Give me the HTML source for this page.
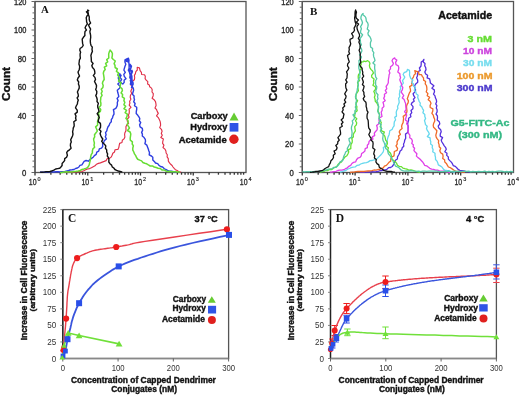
<!DOCTYPE html>
<html><head><meta charset="utf-8"><style>
html,body{margin:0;padding:0;background:#fff;}
body{width:520px;height:395px;overflow:hidden;font-family:"Liberation Sans", sans-serif;}
svg{display:block;filter:blur(0.4px);}
</style></head><body>
<svg width="520" height="395" viewBox="0 0 520 395">
<rect width="520" height="395" fill="#fff"/>
<rect x="35" y="1.5" width="211" height="171.0" fill="none" stroke="#555" stroke-width="1.3"/>
<line x1="35.00" y1="1.50" x2="35.00" y2="172.50" stroke="#555" stroke-width="1.2"/>
<line x1="35.00" y1="172.50" x2="246.00" y2="172.50" stroke="#555" stroke-width="1.2"/>
<line x1="31.50" y1="172.50" x2="35.00" y2="172.50" stroke="#666" stroke-width="1.0"/>
<line x1="32.50" y1="166.80" x2="35.00" y2="166.80" stroke="#666" stroke-width="1.0"/>
<line x1="32.50" y1="161.10" x2="35.00" y2="161.10" stroke="#666" stroke-width="1.0"/>
<line x1="32.50" y1="155.40" x2="35.00" y2="155.40" stroke="#666" stroke-width="1.0"/>
<line x1="32.50" y1="149.70" x2="35.00" y2="149.70" stroke="#666" stroke-width="1.0"/>
<line x1="31.50" y1="144.00" x2="35.00" y2="144.00" stroke="#666" stroke-width="1.0"/>
<line x1="32.50" y1="138.30" x2="35.00" y2="138.30" stroke="#666" stroke-width="1.0"/>
<line x1="32.50" y1="132.60" x2="35.00" y2="132.60" stroke="#666" stroke-width="1.0"/>
<line x1="32.50" y1="126.90" x2="35.00" y2="126.90" stroke="#666" stroke-width="1.0"/>
<line x1="32.50" y1="121.20" x2="35.00" y2="121.20" stroke="#666" stroke-width="1.0"/>
<line x1="31.50" y1="115.50" x2="35.00" y2="115.50" stroke="#666" stroke-width="1.0"/>
<line x1="32.50" y1="109.80" x2="35.00" y2="109.80" stroke="#666" stroke-width="1.0"/>
<line x1="32.50" y1="104.10" x2="35.00" y2="104.10" stroke="#666" stroke-width="1.0"/>
<line x1="32.50" y1="98.40" x2="35.00" y2="98.40" stroke="#666" stroke-width="1.0"/>
<line x1="32.50" y1="92.70" x2="35.00" y2="92.70" stroke="#666" stroke-width="1.0"/>
<line x1="31.50" y1="87.00" x2="35.00" y2="87.00" stroke="#666" stroke-width="1.0"/>
<line x1="32.50" y1="81.30" x2="35.00" y2="81.30" stroke="#666" stroke-width="1.0"/>
<line x1="32.50" y1="75.60" x2="35.00" y2="75.60" stroke="#666" stroke-width="1.0"/>
<line x1="32.50" y1="69.90" x2="35.00" y2="69.90" stroke="#666" stroke-width="1.0"/>
<line x1="32.50" y1="64.20" x2="35.00" y2="64.20" stroke="#666" stroke-width="1.0"/>
<line x1="31.50" y1="58.50" x2="35.00" y2="58.50" stroke="#666" stroke-width="1.0"/>
<line x1="32.50" y1="52.80" x2="35.00" y2="52.80" stroke="#666" stroke-width="1.0"/>
<line x1="32.50" y1="47.10" x2="35.00" y2="47.10" stroke="#666" stroke-width="1.0"/>
<line x1="32.50" y1="41.40" x2="35.00" y2="41.40" stroke="#666" stroke-width="1.0"/>
<line x1="32.50" y1="35.70" x2="35.00" y2="35.70" stroke="#666" stroke-width="1.0"/>
<line x1="31.50" y1="30.00" x2="35.00" y2="30.00" stroke="#666" stroke-width="1.0"/>
<line x1="32.50" y1="24.30" x2="35.00" y2="24.30" stroke="#666" stroke-width="1.0"/>
<line x1="32.50" y1="18.60" x2="35.00" y2="18.60" stroke="#666" stroke-width="1.0"/>
<line x1="32.50" y1="12.90" x2="35.00" y2="12.90" stroke="#666" stroke-width="1.0"/>
<line x1="32.50" y1="7.20" x2="35.00" y2="7.20" stroke="#666" stroke-width="1.0"/>
<line x1="31.50" y1="1.50" x2="35.00" y2="1.50" stroke="#666" stroke-width="1.0"/>
<text x="26.4" y="175.5" font-size="8.6" fill="#2a2a2a" font-weight="normal" text-anchor="end" font-family='"Liberation Sans", sans-serif' stroke="#2a2a2a" stroke-width="0.35" textLength="4.3" lengthAdjust="spacingAndGlyphs" >0</text>
<text x="26.4" y="118.5" font-size="8.6" fill="#2a2a2a" font-weight="normal" text-anchor="end" font-family='"Liberation Sans", sans-serif' stroke="#2a2a2a" stroke-width="0.35" textLength="8.6" lengthAdjust="spacingAndGlyphs" >40</text>
<text x="26.4" y="90.0" font-size="8.6" fill="#2a2a2a" font-weight="normal" text-anchor="end" font-family='"Liberation Sans", sans-serif' stroke="#2a2a2a" stroke-width="0.35" textLength="8.6" lengthAdjust="spacingAndGlyphs" >60</text>
<text x="26.4" y="61.5" font-size="8.6" fill="#2a2a2a" font-weight="normal" text-anchor="end" font-family='"Liberation Sans", sans-serif' stroke="#2a2a2a" stroke-width="0.35" textLength="8.6" lengthAdjust="spacingAndGlyphs" >80</text>
<text x="26.4" y="33.0" font-size="8.6" fill="#2a2a2a" font-weight="normal" text-anchor="end" font-family='"Liberation Sans", sans-serif' stroke="#2a2a2a" stroke-width="0.35" textLength="12.4" lengthAdjust="spacingAndGlyphs" >100</text>
<text x="26.4" y="4.5" font-size="8.6" fill="#2a2a2a" font-weight="normal" text-anchor="end" font-family='"Liberation Sans", sans-serif' stroke="#2a2a2a" stroke-width="0.35" textLength="12.4" lengthAdjust="spacingAndGlyphs" >120</text>
<line x1="35.00" y1="172.50" x2="35.00" y2="175.50" stroke="#333" stroke-width="1.3"/>
<line x1="50.88" y1="172.50" x2="50.88" y2="174.70" stroke="#333" stroke-width="1.3"/>
<line x1="60.17" y1="172.50" x2="60.17" y2="174.70" stroke="#333" stroke-width="1.3"/>
<line x1="66.76" y1="172.50" x2="66.76" y2="174.70" stroke="#333" stroke-width="1.3"/>
<line x1="71.87" y1="172.50" x2="71.87" y2="174.70" stroke="#333" stroke-width="1.3"/>
<line x1="76.05" y1="172.50" x2="76.05" y2="174.70" stroke="#333" stroke-width="1.3"/>
<line x1="79.58" y1="172.50" x2="79.58" y2="174.70" stroke="#333" stroke-width="1.3"/>
<line x1="82.64" y1="172.50" x2="82.64" y2="174.70" stroke="#333" stroke-width="1.3"/>
<line x1="85.34" y1="172.50" x2="85.34" y2="174.70" stroke="#333" stroke-width="1.3"/>
<line x1="87.75" y1="172.50" x2="87.75" y2="175.50" stroke="#333" stroke-width="1.3"/>
<line x1="103.63" y1="172.50" x2="103.63" y2="174.70" stroke="#333" stroke-width="1.3"/>
<line x1="112.92" y1="172.50" x2="112.92" y2="174.70" stroke="#333" stroke-width="1.3"/>
<line x1="119.51" y1="172.50" x2="119.51" y2="174.70" stroke="#333" stroke-width="1.3"/>
<line x1="124.62" y1="172.50" x2="124.62" y2="174.70" stroke="#333" stroke-width="1.3"/>
<line x1="128.80" y1="172.50" x2="128.80" y2="174.70" stroke="#333" stroke-width="1.3"/>
<line x1="132.33" y1="172.50" x2="132.33" y2="174.70" stroke="#333" stroke-width="1.3"/>
<line x1="135.39" y1="172.50" x2="135.39" y2="174.70" stroke="#333" stroke-width="1.3"/>
<line x1="138.09" y1="172.50" x2="138.09" y2="174.70" stroke="#333" stroke-width="1.3"/>
<line x1="140.50" y1="172.50" x2="140.50" y2="175.50" stroke="#333" stroke-width="1.3"/>
<line x1="156.38" y1="172.50" x2="156.38" y2="174.70" stroke="#333" stroke-width="1.3"/>
<line x1="165.67" y1="172.50" x2="165.67" y2="174.70" stroke="#333" stroke-width="1.3"/>
<line x1="172.26" y1="172.50" x2="172.26" y2="174.70" stroke="#333" stroke-width="1.3"/>
<line x1="177.37" y1="172.50" x2="177.37" y2="174.70" stroke="#333" stroke-width="1.3"/>
<line x1="181.55" y1="172.50" x2="181.55" y2="174.70" stroke="#333" stroke-width="1.3"/>
<line x1="185.08" y1="172.50" x2="185.08" y2="174.70" stroke="#333" stroke-width="1.3"/>
<line x1="188.14" y1="172.50" x2="188.14" y2="174.70" stroke="#333" stroke-width="1.3"/>
<line x1="190.84" y1="172.50" x2="190.84" y2="174.70" stroke="#333" stroke-width="1.3"/>
<line x1="193.25" y1="172.50" x2="193.25" y2="175.50" stroke="#333" stroke-width="1.3"/>
<line x1="209.13" y1="172.50" x2="209.13" y2="174.70" stroke="#333" stroke-width="1.3"/>
<line x1="218.42" y1="172.50" x2="218.42" y2="174.70" stroke="#333" stroke-width="1.3"/>
<line x1="225.01" y1="172.50" x2="225.01" y2="174.70" stroke="#333" stroke-width="1.3"/>
<line x1="230.12" y1="172.50" x2="230.12" y2="174.70" stroke="#333" stroke-width="1.3"/>
<line x1="234.30" y1="172.50" x2="234.30" y2="174.70" stroke="#333" stroke-width="1.3"/>
<line x1="237.83" y1="172.50" x2="237.83" y2="174.70" stroke="#333" stroke-width="1.3"/>
<line x1="240.89" y1="172.50" x2="240.89" y2="174.70" stroke="#333" stroke-width="1.3"/>
<line x1="243.59" y1="172.50" x2="243.59" y2="174.70" stroke="#333" stroke-width="1.3"/>
<text x="28.8" y="185.1" font-size="8.2" fill="#2a2a2a" font-weight="normal" text-anchor="start" font-family='"Liberation Sans", sans-serif' stroke="#2a2a2a" stroke-width="0.3" textLength="7.7" lengthAdjust="spacingAndGlyphs" >10</text>
<text x="37.5" y="181.1" font-size="5.5" fill="#2a2a2a" font-weight="normal" text-anchor="start" font-family='"Liberation Sans", sans-serif' stroke="#2a2a2a" stroke-width="0.2" >0</text>
<text x="81.5" y="185.1" font-size="8.2" fill="#2a2a2a" font-weight="normal" text-anchor="start" font-family='"Liberation Sans", sans-serif' stroke="#2a2a2a" stroke-width="0.3" textLength="7.7" lengthAdjust="spacingAndGlyphs" >10</text>
<text x="90.2" y="181.1" font-size="5.5" fill="#2a2a2a" font-weight="normal" text-anchor="start" font-family='"Liberation Sans", sans-serif' stroke="#2a2a2a" stroke-width="0.2" >1</text>
<text x="134.3" y="185.1" font-size="8.2" fill="#2a2a2a" font-weight="normal" text-anchor="start" font-family='"Liberation Sans", sans-serif' stroke="#2a2a2a" stroke-width="0.3" textLength="7.7" lengthAdjust="spacingAndGlyphs" >10</text>
<text x="143.0" y="181.1" font-size="5.5" fill="#2a2a2a" font-weight="normal" text-anchor="start" font-family='"Liberation Sans", sans-serif' stroke="#2a2a2a" stroke-width="0.2" >2</text>
<text x="187.1" y="185.1" font-size="8.2" fill="#2a2a2a" font-weight="normal" text-anchor="start" font-family='"Liberation Sans", sans-serif' stroke="#2a2a2a" stroke-width="0.3" textLength="7.7" lengthAdjust="spacingAndGlyphs" >10</text>
<text x="195.8" y="181.1" font-size="5.5" fill="#2a2a2a" font-weight="normal" text-anchor="start" font-family='"Liberation Sans", sans-serif' stroke="#2a2a2a" stroke-width="0.2" >3</text>
<text x="239.8" y="185.1" font-size="8.2" fill="#2a2a2a" font-weight="normal" text-anchor="start" font-family='"Liberation Sans", sans-serif' stroke="#2a2a2a" stroke-width="0.3" textLength="7.7" lengthAdjust="spacingAndGlyphs" >10</text>
<text x="248.5" y="181.1" font-size="5.5" fill="#2a2a2a" font-weight="normal" text-anchor="start" font-family='"Liberation Sans", sans-serif' stroke="#2a2a2a" stroke-width="0.2" >4</text>
<text x="9.7" y="84.0" font-size="11.5" fill="#111" font-weight="bold" text-anchor="middle" font-family='"Liberation Sans", sans-serif' stroke="#111" stroke-width="0.38" textLength="34" lengthAdjust="spacingAndGlyphs" transform="rotate(-90 9.7 84.0)" >Count</text>
<text x="41.0" y="12.8" font-size="10.8" fill="#111" font-weight="bold" text-anchor="start" font-family='"Liberation Serif", serif' >A</text>
<path d="M60.0,172.2 L62.0,172.0 L64.0,172.1 L66.0,171.9 L68.0,171.8 L70.0,171.9 L72.0,172.1 L74.0,172.0 L76.0,171.9 L78.0,171.6 L80.0,171.7 L82.0,171.5 L83.8,170.8 L85.6,169.8 L87.5,169.0 L89.6,168.6 L91.4,167.7 L93.2,166.7 L95.0,165.8 L96.5,164.2 L98.4,163.4 L100.4,162.9 L102.3,162.1 L104.2,161.4 L106.1,160.6 L107.3,158.5 L109.5,158.4 L111.1,157.1 L112.1,155.3 L112.8,153.2 L114.5,152.0 L115.0,149.8 L117.9,149.4 L118.8,147.6 L119.2,145.4 L119.6,143.4 L122.0,142.5 L122.3,140.3 L124.0,138.9 L124.9,137.0 L124.6,134.7 L124.9,132.7 L125.9,130.9 L126.0,128.9 L125.9,126.7 L126.8,124.9 L128.6,123.3 L127.2,120.9 L127.4,119.0 L129.1,117.2 L128.4,115.1 L129.2,113.2 L129.3,111.2 L129.1,109.2 L131.0,107.3 L129.2,105.1 L129.9,103.2 L129.6,101.2 L130.9,99.3 L130.2,97.2 L130.5,95.2 L131.7,93.3 L130.8,91.2 L131.6,89.3 L132.7,87.3 L130.8,85.0 L131.3,83.0 L132.4,81.2 L134.4,79.7 L134.7,77.7 L134.4,75.4 L135.4,73.6 L135.8,71.6 L137.3,70.0 L137.2,67.4 L139.4,67.8 L139.7,68.8 L140.1,70.6 L141.4,72.3 L141.6,74.5 L144.5,74.7 L145.3,76.3 L145.1,78.6 L146.2,80.1 L147.8,81.7 L147.6,83.9 L149.3,85.0 L149.7,86.8 L151.5,88.1 L152.2,89.8 L152.0,92.0 L153.3,93.7 L153.1,95.9 L152.1,98.2 L154.2,99.8 L155.5,101.6 L155.9,103.6 L156.1,105.6 L155.0,108.0 L156.6,109.7 L157.3,111.6 L158.3,113.4 L156.5,115.9 L158.3,117.6 L159.3,119.5 L160.1,121.4 L160.5,123.3 L160.6,125.4 L159.7,127.6 L161.4,129.3 L162.1,131.2 L161.3,133.4 L162.3,135.3 L160.8,137.6 L163.4,139.1 L162.8,141.3 L162.6,143.4 L163.9,145.2 L163.0,147.5 L164.9,149.1 L165.9,151.0 L166.1,153.0 L167.3,154.8 L167.1,156.9 L168.3,158.6 L168.3,160.9 L169.3,162.7 L170.7,164.3 L172.1,165.5 L173.0,167.0 L174.2,168.4 L175.4,169.7 L177.2,170.5 L178.8,171.7 L180.8,172.0 L181.1,172.1" fill="none" stroke="#e03048" stroke-width="1.15" stroke-linejoin="round" opacity="1.0"/>
<path d="M40.0,172.2 L42.0,172.3 L44.0,172.1 L46.0,172.2 L48.0,172.1 L50.0,171.7 L52.0,171.7 L54.0,172.0 L56.0,171.7 L58.0,171.6 L60.0,172.0 L62.0,171.6 L64.0,171.9 L66.0,171.2 L68.0,170.8 L69.9,170.0 L72.0,169.8 L74.0,169.5 L75.6,168.5 L77.4,168.0 L78.9,167.0 L79.9,165.4 L81.9,164.8 L83.0,163.1 L84.1,161.4 L86.1,160.5 L88.4,161.2 L89.8,159.6 L91.5,158.4 L93.2,157.2 L94.4,155.6 L96.2,154.4 L96.8,152.1 L98.7,151.1 L99.3,148.9 L101.5,148.1 L102.7,146.5 L102.6,143.6 L103.8,142.4 L104.2,140.7 L106.4,138.9 L105.3,136.7 L106.1,134.8 L105.5,132.6 L106.8,130.8 L107.2,128.9 L107.9,127.0 L109.2,125.3 L109.8,123.4 L111.3,121.7 L111.3,119.6 L112.5,117.8 L113.0,115.9 L114.0,114.1 L113.9,112.0 L113.4,109.6 L115.8,108.4 L116.8,106.7 L117.4,104.7 L117.3,102.5 L118.1,100.6 L117.1,98.4 L118.8,96.5 L118.3,94.4 L117.7,92.3 L117.3,90.2 L119.5,88.3 L120.0,86.3 L117.8,84.1 L119.7,82.2 L118.9,80.1 L118.3,78.0 L118.8,76.0 L120.2,74.1 L118.8,73.8 L121.1,75.4 L119.9,77.6 L121.6,79.3 L120.3,81.6 L121.7,83.2 L122.8,84.0 L124.2,82.4 L124.1,80.2 L126.0,78.6 L124.3,76.3 L123.8,74.3 L125.3,72.3 L123.9,70.2 L124.4,68.2 L125.0,66.2 L125.8,64.2 L124.9,62.0 L125.0,59.9 L127.3,58.6 L127.3,58.8 L126.1,61.0 L128.5,62.1 L127.7,59.4 L128.4,58.2 L129.0,60.1 L128.8,62.1 L129.0,64.1 L129.1,66.2 L129.1,68.2 L128.3,70.2 L129.5,72.2 L129.8,74.2 L130.2,73.8 L129.1,71.7 L129.4,69.7 L131.2,67.8 L130.2,65.8 L130.1,64.3 L131.5,66.2 L130.5,68.2 L130.2,70.3 L131.7,72.2 L130.2,74.3 L130.2,76.3 L131.8,78.2 L130.3,80.3 L130.8,82.2 L130.3,84.3 L130.5,83.7 L131.4,81.8 L131.6,79.8 L129.8,77.7 L130.0,75.7 L131.6,73.8 L132.4,71.8 L131.9,70.1 L131.5,72.2 L131.2,74.3 L131.9,76.2 L131.9,78.2 L132.1,80.2 L132.0,82.2 L131.4,84.3 L132.3,86.2 L131.5,87.6 L132.6,85.8 L130.8,83.7 L132.4,81.8 L131.7,80.5 L132.9,82.2 L133.2,84.2 L131.8,86.3 L133.3,88.2 L133.6,90.2 L133.0,92.2 L132.4,94.3 L134.1,96.1 L134.0,97.9 L134.5,99.7 L133.7,101.7 L135.1,103.5 L134.5,105.7 L136.7,107.3 L136.7,109.3 L136.3,111.5 L136.2,113.6 L137.8,115.3 L138.9,116.8 L139.8,118.5 L139.3,120.8 L140.7,122.5 L139.6,124.9 L140.1,126.8 L142.3,128.3 L142.6,130.4 L141.6,132.4 L142.4,134.1 L142.3,136.0 L144.1,137.6 L145.3,139.3 L145.5,141.3 L144.9,143.6 L146.8,145.1 L147.5,146.9 L148.2,148.8 L148.8,150.7 L149.5,152.6 L149.2,154.9 L151.4,156.0 L152.8,157.3 L152.8,159.9 L154.3,161.4 L155.5,163.0 L157.7,163.6 L158.9,165.3 L160.5,166.5 L162.6,167.0 L164.1,168.5 L165.8,169.5 L167.6,170.4 L169.5,171.1 L171.5,171.3 L173.5,171.8 L175.5,172.1 L176.0,172.1" fill="none" stroke="#2f3fe0" stroke-width="1.4" stroke-linejoin="round" opacity="1.0"/>
<path d="M60.0,172.5 L62.0,172.4 L64.0,171.9 L66.1,171.8 L68.1,172.1 L70.2,171.9 L72.2,171.8 L74.2,171.4 L76.2,171.2 L78.3,170.9 L80.3,170.5 L82.0,169.4 L84.0,168.9 L85.7,168.4 L87.4,167.8 L88.5,166.3 L89.3,164.6 L89.7,162.5 L90.2,160.6 L90.5,158.6 L90.7,156.6 L91.2,154.7 L92.4,152.9 L92.4,150.9 L92.9,148.9 L94.6,147.2 L94.0,145.1 L94.4,143.1 L93.9,140.9 L93.6,138.8 L94.7,136.9 L94.5,134.8 L95.8,133.0 L97.3,131.1 L96.6,129.0 L95.6,126.9 L97.6,125.1 L97.6,123.1 L97.6,121.1 L98.4,119.2 L98.4,117.2 L99.0,115.3 L98.3,113.1 L100.3,111.5 L100.7,109.5 L99.1,107.2 L100.8,105.4 L100.9,103.3 L100.4,101.3 L100.7,99.3 L100.8,97.3 L102.1,95.4 L101.2,93.3 L102.2,91.3 L101.2,89.2 L102.9,87.4 L103.2,85.4 L102.4,83.3 L103.0,81.3 L104.2,79.5 L104.0,77.4 L103.7,75.3 L103.3,73.2 L103.8,71.3 L105.2,69.5 L104.3,67.2 L106.7,65.8 L105.6,63.4 L107.7,61.9 L106.7,59.6 L108.8,58.0 L108.7,55.9 L108.7,53.9 L109.3,51.9 L110.2,50.2 L110.2,50.1 L111.5,51.7 L112.4,53.5 L112.3,55.7 L111.9,57.9 L113.3,59.5 L115.3,61.0 L114.1,63.6 L115.0,65.4 L115.1,67.5 L117.4,69.0 L116.4,71.3 L118.6,72.8 L117.6,75.1 L119.1,76.8 L119.7,78.7 L118.5,81.1 L121.0,82.6 L120.4,84.8 L120.0,87.0 L122.0,88.6 L122.4,90.6 L121.1,92.9 L122.6,94.6 L122.3,96.8 L124.4,98.4 L123.9,100.6 L124.8,102.4 L123.9,104.7 L125.7,106.4 L123.9,108.7 L126.6,110.3 L125.1,112.6 L127.3,114.2 L127.0,116.3 L125.9,118.5 L127.9,120.2 L128.2,122.2 L127.2,124.4 L128.3,126.2 L129.5,128.0 L127.5,130.5 L130.1,132.0 L130.8,133.9 L130.5,136.1 L130.2,138.2 L130.3,140.2 L132.4,141.9 L132.2,144.0 L133.4,145.8 L132.8,148.0 L132.8,150.2 L133.8,152.0 L134.5,153.9 L135.7,155.6 L136.5,157.5 L137.7,159.2 L139.7,160.1 L141.6,160.9 L142.9,162.5 L144.8,163.2 L146.7,163.8 L148.4,164.9 L150.2,166.0 L152.4,165.9 L154.2,167.0 L156.2,167.5 L158.1,168.2 L160.2,168.5 L161.9,169.9 L164.0,169.9 L165.8,170.9 L167.8,171.4 L169.8,171.3 L171.7,171.8 L173.8,171.7 L175.8,171.8 L177.8,171.9 L179.8,172.1 L180.0,172.1" fill="none" stroke="#66dd33" stroke-width="1.5" stroke-linejoin="round" opacity="1.0"/>
<path d="M40.0,172.1 L42.0,172.3 L44.0,172.1 L46.0,171.7 L48.0,171.7 L50.0,171.5 L51.9,170.8 L53.9,170.2 L55.7,169.0 L57.6,168.6 L59.7,168.3 L60.9,167.0 L62.1,165.5 L62.1,163.4 L63.4,162.0 L64.6,160.6 L64.7,158.6 L66.6,157.2 L67.4,155.3 L66.7,152.6 L67.6,151.1 L69.5,149.8 L71.1,148.2 L70.4,145.9 L70.5,143.8 L71.3,142.0 L70.7,139.8 L71.6,137.9 L72.5,136.0 L73.0,134.0 L72.6,131.9 L73.0,129.9 L73.3,127.9 L74.2,126.0 L74.1,123.9 L73.8,121.8 L76.1,120.1 L75.6,118.0 L76.0,116.0 L75.0,113.9 L77.3,112.1 L77.2,110.1 L75.5,107.9 L76.2,106.0 L77.4,104.0 L77.6,102.0 L78.3,100.1 L77.1,98.0 L78.4,96.1 L78.1,94.0 L77.4,92.0 L78.3,90.0 L79.2,88.1 L79.2,86.0 L78.4,84.0 L78.7,82.0 L77.3,79.9 L78.0,78.0 L79.5,76.0 L78.6,74.0 L78.0,72.0 L79.1,70.0 L79.6,68.0 L79.6,66.0 L78.9,64.0 L79.2,62.0 L79.4,60.0 L80.4,58.1 L80.1,56.0 L80.1,54.0 L80.6,52.2 L79.8,50.2 L80.1,48.5 L82.2,47.0 L83.2,45.4 L82.6,43.4 L82.4,41.3 L82.2,39.2 L83.4,37.3 L84.9,35.5 L84.8,33.5 L85.0,31.6 L86.5,30.1 L85.1,27.8 L86.0,25.8 L87.4,23.9 L86.6,21.8 L86.5,19.8 L86.2,17.7 L87.1,15.7 L88.4,14.2 L86.4,11.9 L88.7,10.6 L87.7,10.1 L87.7,11.5 L88.3,13.3 L88.5,15.0 L89.3,17.0 L89.2,19.0 L89.6,21.0 L90.6,23.0 L88.6,25.1 L89.5,27.1 L90.6,29.1 L89.9,31.2 L90.1,33.2 L90.6,35.2 L90.7,37.3 L90.4,39.3 L90.3,41.3 L90.5,43.4 L91.0,45.3 L92.3,47.2 L92.0,49.3 L92.4,51.4 L91.5,53.5 L90.9,55.5 L91.2,57.5 L91.3,59.6 L91.4,61.6 L93.1,63.4 L91.8,65.6 L92.5,67.5 L94.2,69.4 L94.7,71.3 L94.9,73.3 L93.3,75.6 L94.9,77.4 L95.5,79.4 L94.5,81.5 L95.5,83.4 L96.5,85.4 L96.4,87.4 L95.7,89.5 L96.8,91.4 L96.7,93.5 L95.8,95.6 L96.7,97.5 L97.2,99.5 L97.0,101.5 L98.4,103.4 L97.7,105.5 L97.8,107.5 L98.6,109.5 L99.0,111.4 L97.1,113.6 L98.4,115.5 L99.3,117.5 L98.5,119.6 L98.2,121.6 L100.4,123.4 L100.6,125.4 L100.5,127.4 L99.2,129.6 L101.0,131.3 L100.1,133.5 L100.7,135.5 L101.5,137.3 L102.8,139.0 L101.7,141.4 L102.9,142.9 L104.4,144.2 L105.8,145.9 L105.4,148.2 L106.7,149.9 L106.7,152.0 L107.6,153.9 L107.3,156.0 L108.6,157.8 L108.9,159.7 L108.8,162.0 L109.9,163.7 L111.6,165.1 L112.2,166.9 L113.8,168.0 L114.9,169.5 L116.6,170.3 L118.3,171.0 L120.1,171.5 L121.8,172.0 L121.9,172.5" fill="none" stroke="#111" stroke-width="1.4" stroke-linejoin="round" opacity="1.0"/>
<text x="227.7" y="119.4" font-size="9.3" fill="#111" font-weight="bold" text-anchor="end" font-family='"Liberation Sans", sans-serif' stroke="#111" stroke-width="0.38" textLength="37" lengthAdjust="spacingAndGlyphs" >Carboxy</text>
<text x="227.3" y="129.5" font-size="9.3" fill="#111" font-weight="bold" text-anchor="end" font-family='"Liberation Sans", sans-serif' stroke="#111" stroke-width="0.38" textLength="37" lengthAdjust="spacingAndGlyphs" >Hydroxy</text>
<text x="226.7" y="142.8" font-size="9.3" fill="#111" font-weight="bold" text-anchor="end" font-family='"Liberation Sans", sans-serif' stroke="#111" stroke-width="0.38" textLength="48" lengthAdjust="spacingAndGlyphs" >Acetamide</text>
<polygon points="229.5,120.4 238.5,120.4 234,112.6" fill="#66cc33"/>
<rect x="229.6" y="123" width="8.8" height="8.6" fill="#2f55e6"/>
<circle cx="233.9" cy="139.2" r="4.7" fill="#e0201e"/>
<rect x="302.3" y="1.5" width="211.2" height="171.0" fill="none" stroke="#555" stroke-width="1.3"/>
<line x1="302.30" y1="1.50" x2="302.30" y2="172.50" stroke="#555" stroke-width="1.2"/>
<line x1="302.30" y1="172.50" x2="513.50" y2="172.50" stroke="#555" stroke-width="1.2"/>
<line x1="298.80" y1="172.50" x2="302.30" y2="172.50" stroke="#666" stroke-width="1.0"/>
<line x1="299.80" y1="166.80" x2="302.30" y2="166.80" stroke="#666" stroke-width="1.0"/>
<line x1="299.80" y1="161.10" x2="302.30" y2="161.10" stroke="#666" stroke-width="1.0"/>
<line x1="299.80" y1="155.40" x2="302.30" y2="155.40" stroke="#666" stroke-width="1.0"/>
<line x1="299.80" y1="149.70" x2="302.30" y2="149.70" stroke="#666" stroke-width="1.0"/>
<line x1="298.80" y1="144.00" x2="302.30" y2="144.00" stroke="#666" stroke-width="1.0"/>
<line x1="299.80" y1="138.30" x2="302.30" y2="138.30" stroke="#666" stroke-width="1.0"/>
<line x1="299.80" y1="132.60" x2="302.30" y2="132.60" stroke="#666" stroke-width="1.0"/>
<line x1="299.80" y1="126.90" x2="302.30" y2="126.90" stroke="#666" stroke-width="1.0"/>
<line x1="299.80" y1="121.20" x2="302.30" y2="121.20" stroke="#666" stroke-width="1.0"/>
<line x1="298.80" y1="115.50" x2="302.30" y2="115.50" stroke="#666" stroke-width="1.0"/>
<line x1="299.80" y1="109.80" x2="302.30" y2="109.80" stroke="#666" stroke-width="1.0"/>
<line x1="299.80" y1="104.10" x2="302.30" y2="104.10" stroke="#666" stroke-width="1.0"/>
<line x1="299.80" y1="98.40" x2="302.30" y2="98.40" stroke="#666" stroke-width="1.0"/>
<line x1="299.80" y1="92.70" x2="302.30" y2="92.70" stroke="#666" stroke-width="1.0"/>
<line x1="298.80" y1="87.00" x2="302.30" y2="87.00" stroke="#666" stroke-width="1.0"/>
<line x1="299.80" y1="81.30" x2="302.30" y2="81.30" stroke="#666" stroke-width="1.0"/>
<line x1="299.80" y1="75.60" x2="302.30" y2="75.60" stroke="#666" stroke-width="1.0"/>
<line x1="299.80" y1="69.90" x2="302.30" y2="69.90" stroke="#666" stroke-width="1.0"/>
<line x1="299.80" y1="64.20" x2="302.30" y2="64.20" stroke="#666" stroke-width="1.0"/>
<line x1="298.80" y1="58.50" x2="302.30" y2="58.50" stroke="#666" stroke-width="1.0"/>
<line x1="299.80" y1="52.80" x2="302.30" y2="52.80" stroke="#666" stroke-width="1.0"/>
<line x1="299.80" y1="47.10" x2="302.30" y2="47.10" stroke="#666" stroke-width="1.0"/>
<line x1="299.80" y1="41.40" x2="302.30" y2="41.40" stroke="#666" stroke-width="1.0"/>
<line x1="299.80" y1="35.70" x2="302.30" y2="35.70" stroke="#666" stroke-width="1.0"/>
<line x1="298.80" y1="30.00" x2="302.30" y2="30.00" stroke="#666" stroke-width="1.0"/>
<line x1="299.80" y1="24.30" x2="302.30" y2="24.30" stroke="#666" stroke-width="1.0"/>
<line x1="299.80" y1="18.60" x2="302.30" y2="18.60" stroke="#666" stroke-width="1.0"/>
<line x1="299.80" y1="12.90" x2="302.30" y2="12.90" stroke="#666" stroke-width="1.0"/>
<line x1="299.80" y1="7.20" x2="302.30" y2="7.20" stroke="#666" stroke-width="1.0"/>
<line x1="298.80" y1="1.50" x2="302.30" y2="1.50" stroke="#666" stroke-width="1.0"/>
<text x="293.7" y="175.5" font-size="8.6" fill="#2a2a2a" font-weight="normal" text-anchor="end" font-family='"Liberation Sans", sans-serif' stroke="#2a2a2a" stroke-width="0.35" textLength="4.3" lengthAdjust="spacingAndGlyphs" >0</text>
<text x="293.7" y="147.0" font-size="8.6" fill="#2a2a2a" font-weight="normal" text-anchor="end" font-family='"Liberation Sans", sans-serif' stroke="#2a2a2a" stroke-width="0.35" textLength="8.6" lengthAdjust="spacingAndGlyphs" >20</text>
<text x="293.7" y="118.5" font-size="8.6" fill="#2a2a2a" font-weight="normal" text-anchor="end" font-family='"Liberation Sans", sans-serif' stroke="#2a2a2a" stroke-width="0.35" textLength="8.6" lengthAdjust="spacingAndGlyphs" >40</text>
<text x="293.7" y="90.0" font-size="8.6" fill="#2a2a2a" font-weight="normal" text-anchor="end" font-family='"Liberation Sans", sans-serif' stroke="#2a2a2a" stroke-width="0.35" textLength="8.6" lengthAdjust="spacingAndGlyphs" >60</text>
<text x="293.7" y="61.5" font-size="8.6" fill="#2a2a2a" font-weight="normal" text-anchor="end" font-family='"Liberation Sans", sans-serif' stroke="#2a2a2a" stroke-width="0.35" textLength="8.6" lengthAdjust="spacingAndGlyphs" >80</text>
<text x="293.7" y="33.0" font-size="8.6" fill="#2a2a2a" font-weight="normal" text-anchor="end" font-family='"Liberation Sans", sans-serif' stroke="#2a2a2a" stroke-width="0.35" textLength="12.4" lengthAdjust="spacingAndGlyphs" >100</text>
<text x="293.7" y="4.5" font-size="8.6" fill="#2a2a2a" font-weight="normal" text-anchor="end" font-family='"Liberation Sans", sans-serif' stroke="#2a2a2a" stroke-width="0.35" textLength="12.4" lengthAdjust="spacingAndGlyphs" >120</text>
<line x1="302.30" y1="172.50" x2="302.30" y2="175.50" stroke="#333" stroke-width="1.3"/>
<line x1="318.19" y1="172.50" x2="318.19" y2="174.70" stroke="#333" stroke-width="1.3"/>
<line x1="327.49" y1="172.50" x2="327.49" y2="174.70" stroke="#333" stroke-width="1.3"/>
<line x1="334.09" y1="172.50" x2="334.09" y2="174.70" stroke="#333" stroke-width="1.3"/>
<line x1="339.21" y1="172.50" x2="339.21" y2="174.70" stroke="#333" stroke-width="1.3"/>
<line x1="343.39" y1="172.50" x2="343.39" y2="174.70" stroke="#333" stroke-width="1.3"/>
<line x1="346.92" y1="172.50" x2="346.92" y2="174.70" stroke="#333" stroke-width="1.3"/>
<line x1="349.98" y1="172.50" x2="349.98" y2="174.70" stroke="#333" stroke-width="1.3"/>
<line x1="352.68" y1="172.50" x2="352.68" y2="174.70" stroke="#333" stroke-width="1.3"/>
<line x1="355.10" y1="172.50" x2="355.10" y2="175.50" stroke="#333" stroke-width="1.3"/>
<line x1="370.99" y1="172.50" x2="370.99" y2="174.70" stroke="#333" stroke-width="1.3"/>
<line x1="380.29" y1="172.50" x2="380.29" y2="174.70" stroke="#333" stroke-width="1.3"/>
<line x1="386.89" y1="172.50" x2="386.89" y2="174.70" stroke="#333" stroke-width="1.3"/>
<line x1="392.01" y1="172.50" x2="392.01" y2="174.70" stroke="#333" stroke-width="1.3"/>
<line x1="396.19" y1="172.50" x2="396.19" y2="174.70" stroke="#333" stroke-width="1.3"/>
<line x1="399.72" y1="172.50" x2="399.72" y2="174.70" stroke="#333" stroke-width="1.3"/>
<line x1="402.78" y1="172.50" x2="402.78" y2="174.70" stroke="#333" stroke-width="1.3"/>
<line x1="405.48" y1="172.50" x2="405.48" y2="174.70" stroke="#333" stroke-width="1.3"/>
<line x1="407.90" y1="172.50" x2="407.90" y2="175.50" stroke="#333" stroke-width="1.3"/>
<line x1="423.79" y1="172.50" x2="423.79" y2="174.70" stroke="#333" stroke-width="1.3"/>
<line x1="433.09" y1="172.50" x2="433.09" y2="174.70" stroke="#333" stroke-width="1.3"/>
<line x1="439.69" y1="172.50" x2="439.69" y2="174.70" stroke="#333" stroke-width="1.3"/>
<line x1="444.81" y1="172.50" x2="444.81" y2="174.70" stroke="#333" stroke-width="1.3"/>
<line x1="448.99" y1="172.50" x2="448.99" y2="174.70" stroke="#333" stroke-width="1.3"/>
<line x1="452.52" y1="172.50" x2="452.52" y2="174.70" stroke="#333" stroke-width="1.3"/>
<line x1="455.58" y1="172.50" x2="455.58" y2="174.70" stroke="#333" stroke-width="1.3"/>
<line x1="458.28" y1="172.50" x2="458.28" y2="174.70" stroke="#333" stroke-width="1.3"/>
<line x1="460.70" y1="172.50" x2="460.70" y2="175.50" stroke="#333" stroke-width="1.3"/>
<line x1="476.59" y1="172.50" x2="476.59" y2="174.70" stroke="#333" stroke-width="1.3"/>
<line x1="485.89" y1="172.50" x2="485.89" y2="174.70" stroke="#333" stroke-width="1.3"/>
<line x1="492.49" y1="172.50" x2="492.49" y2="174.70" stroke="#333" stroke-width="1.3"/>
<line x1="497.61" y1="172.50" x2="497.61" y2="174.70" stroke="#333" stroke-width="1.3"/>
<line x1="501.79" y1="172.50" x2="501.79" y2="174.70" stroke="#333" stroke-width="1.3"/>
<line x1="505.32" y1="172.50" x2="505.32" y2="174.70" stroke="#333" stroke-width="1.3"/>
<line x1="508.38" y1="172.50" x2="508.38" y2="174.70" stroke="#333" stroke-width="1.3"/>
<line x1="511.08" y1="172.50" x2="511.08" y2="174.70" stroke="#333" stroke-width="1.3"/>
<text x="296.1" y="185.1" font-size="8.2" fill="#2a2a2a" font-weight="normal" text-anchor="start" font-family='"Liberation Sans", sans-serif' stroke="#2a2a2a" stroke-width="0.3" textLength="7.7" lengthAdjust="spacingAndGlyphs" >10</text>
<text x="304.8" y="181.1" font-size="5.5" fill="#2a2a2a" font-weight="normal" text-anchor="start" font-family='"Liberation Sans", sans-serif' stroke="#2a2a2a" stroke-width="0.2" >0</text>
<text x="348.9" y="185.1" font-size="8.2" fill="#2a2a2a" font-weight="normal" text-anchor="start" font-family='"Liberation Sans", sans-serif' stroke="#2a2a2a" stroke-width="0.3" textLength="7.7" lengthAdjust="spacingAndGlyphs" >10</text>
<text x="357.6" y="181.1" font-size="5.5" fill="#2a2a2a" font-weight="normal" text-anchor="start" font-family='"Liberation Sans", sans-serif' stroke="#2a2a2a" stroke-width="0.2" >1</text>
<text x="401.7" y="185.1" font-size="8.2" fill="#2a2a2a" font-weight="normal" text-anchor="start" font-family='"Liberation Sans", sans-serif' stroke="#2a2a2a" stroke-width="0.3" textLength="7.7" lengthAdjust="spacingAndGlyphs" >10</text>
<text x="410.4" y="181.1" font-size="5.5" fill="#2a2a2a" font-weight="normal" text-anchor="start" font-family='"Liberation Sans", sans-serif' stroke="#2a2a2a" stroke-width="0.2" >2</text>
<text x="454.5" y="185.1" font-size="8.2" fill="#2a2a2a" font-weight="normal" text-anchor="start" font-family='"Liberation Sans", sans-serif' stroke="#2a2a2a" stroke-width="0.3" textLength="7.7" lengthAdjust="spacingAndGlyphs" >10</text>
<text x="463.2" y="181.1" font-size="5.5" fill="#2a2a2a" font-weight="normal" text-anchor="start" font-family='"Liberation Sans", sans-serif' stroke="#2a2a2a" stroke-width="0.2" >3</text>
<text x="507.3" y="185.1" font-size="8.2" fill="#2a2a2a" font-weight="normal" text-anchor="start" font-family='"Liberation Sans", sans-serif' stroke="#2a2a2a" stroke-width="0.3" textLength="7.7" lengthAdjust="spacingAndGlyphs" >10</text>
<text x="516.0" y="181.1" font-size="5.5" fill="#2a2a2a" font-weight="normal" text-anchor="start" font-family='"Liberation Sans", sans-serif' stroke="#2a2a2a" stroke-width="0.2" >4</text>
<text x="277.0" y="84.2" font-size="11.5" fill="#111" font-weight="bold" text-anchor="middle" font-family='"Liberation Sans", sans-serif' stroke="#111" stroke-width="0.38" textLength="34" lengthAdjust="spacingAndGlyphs" transform="rotate(-90 277.0 84.2)" >Count</text>
<text x="310.0" y="15.4" font-size="11" fill="#111" font-weight="bold" text-anchor="start" font-family='"Liberation Serif", serif' >B</text>
<path d="M360.0,172.3 L362.0,172.3 L364.0,172.4 L366.0,172.1 L368.0,172.0 L370.0,172.0 L372.0,171.7 L374.0,171.8 L376.0,171.7 L378.1,171.5 L380.0,170.7 L382.1,170.5 L383.7,169.8 L385.6,169.8 L387.3,169.0 L388.6,167.6 L390.6,167.5 L392.2,166.5 L393.3,165.0 L394.3,163.5 L394.8,161.6 L395.7,160.0 L397.4,159.0 L397.5,156.8 L398.6,155.0 L399.5,153.3 L400.0,151.2 L401.7,149.8 L402.2,147.8 L403.8,146.2 L403.5,144.0 L404.4,142.2 L404.7,140.1 L405.7,138.3 L405.6,136.2 L405.5,134.1 L407.7,132.5 L408.1,130.5 L408.1,128.4 L408.2,126.4 L407.6,124.2 L408.0,122.1 L408.6,120.2 L408.6,118.2 L410.9,116.7 L410.3,114.5 L411.8,112.7 L411.0,110.5 L412.9,108.8 L413.0,106.7 L411.2,104.3 L412.1,102.6 L414.2,101.2 L413.4,99.2 L415.0,97.6 L413.7,95.6 L413.1,93.7 L414.9,91.9 L415.6,90.0 L414.7,87.8 L414.7,85.7 L415.7,83.9 L417.7,82.3 L417.7,80.2 L416.6,77.8 L417.4,75.9 L417.5,73.8 L417.9,71.8 L420.3,70.4 L419.4,68.0 L420.9,66.3 L421.2,64.3 L421.2,62.1 L423.1,60.7 L423.9,59.4 L423.2,62.0 L425.0,63.6 L424.7,65.8 L425.7,67.6 L426.0,69.6 L424.8,72.0 L425.7,73.9 L427.6,75.3 L427.1,77.8 L429.6,78.8 L430.1,80.8 L430.4,83.1 L432.0,84.3 L433.9,85.8 L431.9,88.2 L434.3,89.9 L434.5,91.9 L433.5,94.1 L435.0,95.9 L435.4,97.8 L436.3,99.7 L436.6,101.7 L435.7,103.9 L436.9,105.7 L436.3,107.9 L437.1,109.8 L437.1,111.9 L436.0,114.0 L437.4,115.9 L437.5,118.0 L437.2,120.1 L439.3,121.8 L439.8,123.8 L438.2,126.1 L438.8,128.1 L440.7,129.8 L441.2,131.7 L440.3,134.0 L440.2,136.1 L442.6,137.6 L441.2,140.1 L441.9,142.0 L443.1,143.8 L444.1,145.6 L445.5,147.3 L446.3,149.2 L444.8,151.8 L447.0,153.2 L446.7,155.4 L448.3,156.9 L448.4,159.1 L449.8,160.6 L451.3,162.1 L452.4,163.7 L453.2,165.6 L455.3,166.4 L456.7,167.8 L458.1,169.4 L459.8,170.4 L461.9,170.6 L463.9,170.8 L465.8,171.7 L467.8,171.7 L469.8,172.0 L470.0,172.2" fill="none" stroke="#5530dd" stroke-width="1.3" stroke-linejoin="round" opacity="1.0"/>
<path d="M350.0,172.3 L352.0,172.2 L354.0,172.1 L356.0,171.7 L358.0,171.5 L360.0,171.5 L362.0,171.3 L364.0,171.5 L366.0,171.2 L368.0,171.0 L370.0,170.8 L372.0,170.7 L374.0,170.0 L376.0,170.1 L377.9,169.5 L379.8,169.5 L381.2,168.1 L383.2,168.0 L384.4,166.1 L386.4,165.4 L387.7,163.9 L389.0,162.3 L390.7,161.1 L390.8,158.8 L391.7,157.0 L394.0,155.9 L394.2,153.7 L394.3,151.5 L397.1,150.4 L397.6,148.3 L396.0,145.9 L397.2,144.1 L397.0,141.9 L397.9,140.1 L399.2,138.3 L398.5,136.0 L400.4,134.4 L399.2,132.0 L400.0,130.2 L402.1,128.6 L401.6,126.4 L402.1,124.5 L403.1,122.6 L403.3,120.6 L403.6,118.6 L403.2,116.4 L405.4,114.9 L406.5,113.0 L407.0,111.1 L406.7,108.9 L406.5,106.7 L407.0,104.7 L408.1,102.9 L408.4,100.9 L407.3,98.7 L408.0,96.7 L408.7,94.8 L409.4,92.9 L410.6,91.1 L410.3,88.9 L409.6,86.6 L412.1,85.1 L411.6,82.9 L412.3,81.0 L412.2,78.8 L413.4,77.1 L414.0,75.1 L415.6,73.5 L414.8,70.7 L416.6,71.3 L418.6,72.1 L419.0,74.6 L421.5,74.7 L422.3,76.4 L423.5,77.9 L423.6,80.1 L425.6,81.5 L425.2,83.8 L426.4,85.5 L426.8,87.5 L426.9,89.6 L426.2,91.9 L427.9,93.5 L427.2,95.8 L429.6,97.3 L428.2,99.7 L430.1,101.3 L431.0,103.2 L430.1,105.5 L430.2,107.5 L432.9,108.9 L432.8,111.1 L431.9,113.3 L433.3,115.1 L433.7,117.1 L434.6,119.0 L434.8,121.0 L433.7,123.2 L433.2,125.4 L433.6,127.3 L435.3,129.0 L436.9,130.7 L436.5,132.8 L435.8,135.1 L436.2,137.1 L437.2,138.9 L438.7,140.6 L438.4,142.7 L439.1,144.6 L439.2,146.7 L440.7,148.3 L439.8,150.8 L440.6,152.7 L442.7,154.1 L443.1,156.2 L442.7,158.5 L444.6,159.8 L444.8,162.0 L446.4,163.4 L447.3,165.2 L448.4,167.0 L450.4,167.7 L452.1,168.9 L453.7,170.0 L455.4,171.1 L457.4,171.4 L459.5,171.3 L461.5,172.0 L463.5,172.1 L465.0,172.2" fill="none" stroke="#f06a28" stroke-width="1.3" stroke-linejoin="round" opacity="1.0"/>
<path d="M340.0,172.2 L341.9,171.7 L343.8,171.0 L345.8,170.5 L347.5,169.2 L349.4,168.5 L351.2,167.7 L353.2,167.1 L355.2,166.9 L356.8,165.5 L358.9,165.2 L360.6,164.0 L362.5,163.4 L364.4,162.8 L366.5,162.7 L368.3,161.9 L370.1,160.6 L372.2,160.5 L374.0,159.8 L376.2,159.6 L377.6,158.1 L379.1,156.6 L380.5,155.2 L381.9,153.6 L383.2,151.9 L383.7,149.9 L383.3,147.5 L385.5,146.3 L385.4,144.1 L386.8,142.5 L387.2,140.5 L387.6,138.5 L388.2,136.6 L389.1,134.7 L389.5,132.7 L389.8,130.7 L392.2,129.4 L392.9,127.5 L394.1,125.8 L394.1,123.6 L394.4,121.6 L395.6,119.9 L394.7,117.4 L396.5,116.1 L396.4,114.2 L396.2,112.3 L396.7,110.3 L397.9,108.5 L397.5,106.4 L398.4,104.4 L399.2,102.5 L399.0,100.4 L398.6,98.3 L399.8,96.5 L399.4,94.4 L399.7,92.4 L399.9,90.4 L400.7,88.5 L400.2,86.4 L402.2,84.7 L403.4,83.0 L402.5,80.7 L403.8,78.9 L404.8,77.1 L403.1,74.5 L404.1,72.7 L406.6,71.6 L407.4,70.0 L407.4,69.3 L409.4,70.4 L409.7,72.5 L409.5,74.8 L410.0,76.6 L410.8,78.5 L412.9,80.0 L411.8,82.4 L413.6,83.9 L413.4,86.1 L415.5,87.5 L414.2,90.2 L415.8,91.7 L416.2,93.7 L418.1,95.2 L417.7,97.5 L418.5,99.4 L419.1,101.3 L420.3,103.0 L420.0,105.2 L421.7,106.8 L422.5,108.6 L423.6,110.4 L422.9,112.7 L424.8,114.4 L424.8,116.5 L425.6,118.4 L424.5,120.6 L425.1,122.6 L425.5,124.6 L427.2,126.3 L426.5,128.5 L427.3,130.4 L428.5,132.1 L429.3,134.0 L427.3,136.6 L430.1,137.9 L430.2,140.0 L430.8,141.8 L430.6,144.0 L432.5,145.5 L432.2,147.7 L433.1,149.6 L432.7,151.8 L435.0,153.2 L435.0,155.3 L435.5,157.3 L435.5,159.5 L437.0,161.1 L437.8,162.9 L438.3,164.9 L440.2,165.9 L441.9,167.0 L443.1,168.7 L444.6,170.2 L446.7,170.5 L448.7,170.6 L450.6,171.4 L452.5,171.9 L454.5,172.1 L455.0,172.3" fill="none" stroke="#66d8ee" stroke-width="1.3" stroke-linejoin="round" opacity="1.0"/>
<path d="M330.0,172.1 L332.0,172.0 L334.0,171.6 L336.0,171.4 L337.8,170.5 L339.8,170.1 L341.8,170.1 L343.8,169.7 L345.5,168.7 L347.4,167.8 L348.8,166.3 L350.7,165.4 L351.9,163.5 L353.5,162.4 L355.7,161.8 L356.5,159.7 L357.8,158.2 L360.0,157.4 L361.2,155.8 L361.6,153.5 L363.5,152.4 L364.9,151.0 L365.2,148.6 L367.4,147.7 L367.3,145.3 L368.7,143.8 L369.0,141.7 L370.2,140.1 L372.9,139.2 L372.4,136.7 L374.7,135.6 L374.3,133.1 L375.6,131.5 L377.1,129.9 L377.3,127.8 L376.6,125.4 L378.5,123.9 L379.3,122.1 L378.9,119.8 L379.4,117.8 L382.0,116.5 L381.6,114.3 L381.2,112.1 L382.2,110.3 L382.1,108.2 L383.9,106.6 L383.6,104.4 L383.0,102.3 L385.2,100.7 L383.7,98.3 L384.6,96.4 L384.4,94.3 L386.6,92.7 L385.3,90.4 L386.8,88.7 L386.1,86.5 L387.4,84.7 L388.3,82.8 L388.3,80.8 L388.5,78.8 L388.9,76.8 L389.1,74.8 L389.9,72.9 L389.0,70.7 L390.5,68.9 L390.5,66.8 L392.6,65.3 L393.4,63.4 L392.0,60.8 L392.9,59.0 L394.7,57.9 L394.9,58.8 L396.8,60.1 L395.6,62.4 L396.0,64.6 L398.2,65.8 L398.8,67.7 L398.5,69.8 L397.8,71.9 L399.9,73.7 L400.0,75.7 L400.6,77.6 L399.8,79.8 L400.5,81.7 L401.4,83.6 L401.5,85.7 L402.8,87.5 L402.4,89.6 L401.1,92.0 L402.5,93.8 L403.7,95.6 L402.3,97.9 L404.2,99.6 L404.8,101.5 L405.6,103.4 L405.7,105.4 L405.9,107.4 L406.1,109.5 L404.6,111.7 L406.4,113.6 L406.6,115.6 L405.9,117.8 L405.4,119.9 L407.4,121.6 L406.6,123.8 L408.1,125.5 L408.0,127.6 L408.3,129.6 L407.9,131.7 L408.8,133.6 L409.9,135.4 L409.7,137.7 L411.6,139.1 L412.4,141.0 L411.8,143.5 L413.4,144.7 L413.1,146.7 L414.6,148.2 L413.9,150.6 L415.4,152.2 L416.9,153.7 L416.4,156.1 L418.0,157.6 L419.6,158.7 L421.0,160.2 L422.4,161.7 L423.6,163.4 L424.6,165.3 L426.6,165.8 L428.2,167.1 L429.8,168.3 L431.6,169.1 L433.6,169.4 L435.5,170.2 L437.6,170.2 L439.5,170.8 L441.5,171.1 L443.5,171.2 L445.5,171.6 L447.5,171.8 L449.5,172.3 L450.0,172.1" fill="none" stroke="#e040e8" stroke-width="1.3" stroke-linejoin="round" opacity="1.0"/>
<path d="M320.1,172.5 L321.9,171.6 L323.9,171.4 L325.8,170.5 L327.9,170.6 L329.6,169.3 L331.8,169.5 L333.4,168.2 L335.2,167.2 L337.0,166.2 L338.2,164.3 L339.7,162.9 L341.5,161.9 L342.4,160.0 L343.8,158.5 L344.9,157.0 L346.9,155.7 L347.9,154.0 L348.7,152.1 L348.4,149.7 L350.8,148.7 L350.8,146.5 L351.0,144.4 L352.1,142.7 L352.3,140.7 L351.8,138.5 L353.4,136.7 L353.2,134.7 L354.1,132.8 L355.4,130.9 L355.0,128.8 L354.7,126.7 L356.3,124.8 L356.7,122.8 L355.5,120.7 L356.8,118.8 L354.5,116.6 L354.9,114.6 L355.1,112.6 L357.2,110.7 L356.7,108.6 L356.9,106.6 L355.9,104.6 L356.5,102.6 L357.6,100.6 L355.7,98.5 L356.0,96.5 L356.0,94.4 L357.3,92.5 L358.4,90.6 L357.9,88.5 L357.7,86.5 L358.1,84.5 L357.5,82.4 L359.6,80.6 L358.3,78.5 L358.2,76.4 L358.6,74.4 L360.3,72.7 L359.4,70.4 L361.3,68.7 L360.3,66.4 L361.1,64.5 L361.1,62.2 L363.8,61.6 L363.9,61.0 L365.7,61.6 L367.3,60.7 L369.0,61.5 L369.9,63.4 L369.4,65.6 L369.8,67.6 L370.9,69.4 L372.6,71.0 L373.5,73.0 L371.6,75.3 L371.8,77.3 L374.1,79.0 L373.5,81.1 L373.9,83.1 L372.9,85.3 L375.5,87.0 L375.6,89.1 L373.8,91.3 L374.6,93.2 L375.1,95.2 L374.4,97.3 L375.1,99.3 L375.3,101.4 L376.9,103.0 L377.8,104.9 L378.5,106.8 L378.2,108.9 L377.8,111.1 L379.0,112.9 L379.5,114.8 L379.2,116.9 L379.5,118.9 L380.2,120.8 L381.3,122.6 L380.5,124.8 L381.0,126.8 L381.2,128.8 L381.6,130.8 L384.4,132.1 L383.4,134.5 L384.8,136.2 L385.3,138.1 L385.6,140.1 L387.1,141.8 L387.4,143.8 L386.2,146.3 L388.4,147.7 L387.7,150.1 L389.0,151.7 L390.5,153.3 L391.3,155.2 L391.5,157.2 L392.1,159.2 L393.6,160.6 L395.3,161.7 L396.6,163.3 L397.4,165.3 L399.2,166.4 L401.4,166.6 L402.9,168.1 L404.9,168.7 L406.9,169.2 L408.8,170.1 L410.9,169.9 L412.9,170.4 L414.8,171.0 L416.7,171.7 L418.8,172.0 L420.0,172.3" fill="none" stroke="#66e030" stroke-width="1.3" stroke-linejoin="round" opacity="1.0"/>
<path d="M302.5,171.7 L304.5,171.8 L306.5,171.7 L308.5,171.7 L310.5,171.7 L312.5,171.8 L314.5,171.5 L316.5,171.7 L318.5,171.3 L320.5,171.3 L322.4,170.8 L324.3,170.1 L326.4,170.0 L328.2,169.1 L330.3,168.9 L332.2,168.6 L334.0,167.3 L336.2,167.4 L337.7,165.8 L339.0,164.3 L339.8,162.2 L341.7,161.2 L343.2,159.8 L343.4,157.7 L344.0,155.8 L344.9,154.0 L345.6,152.1 L347.5,150.7 L347.3,148.4 L348.2,146.7 L349.2,144.9 L350.4,143.1 L349.2,140.7 L349.0,138.6 L351.7,137.2 L351.8,135.1 L352.1,133.1 L351.9,131.0 L351.4,128.9 L351.5,126.9 L352.2,124.9 L352.9,123.0 L352.2,120.9 L354.1,119.1 L354.5,117.1 L353.0,114.8 L355.4,113.2 L354.8,111.0 L356.2,109.2 L355.3,107.0 L356.4,105.1 L355.8,103.0 L356.4,101.1 L356.4,99.0 L355.4,96.9 L356.0,94.9 L356.4,92.9 L357.1,91.0 L357.3,89.0 L357.9,87.0 L358.4,85.0 L358.0,82.9 L358.0,80.9 L358.7,79.0 L360.0,77.1 L359.8,75.0 L359.6,73.0 L360.3,71.0 L358.9,68.8 L358.8,66.8 L358.9,64.8 L359.1,62.8 L358.9,60.8 L360.6,58.9 L361.5,56.9 L359.5,54.8 L361.1,52.8 L361.9,50.9 L361.5,48.8 L360.0,46.7 L361.4,44.8 L360.5,42.7 L360.4,40.7 L360.1,38.7 L361.5,36.7 L362.6,34.8 L360.5,32.7 L360.7,30.7 L361.4,28.7 L360.6,26.7 L361.8,24.7 L362.5,22.7 L361.9,20.7 L360.9,18.6 L361.0,16.8 L361.7,15.0 L363.1,13.5 L362.3,14.2 L363.9,15.5 L365.6,17.1 L366.1,19.0 L366.3,21.1 L367.7,22.8 L368.2,24.8 L367.8,26.9 L367.2,29.1 L369.1,30.8 L367.9,33.1 L368.3,35.0 L369.9,36.8 L370.8,38.6 L371.3,40.6 L370.4,42.8 L370.4,44.9 L370.6,46.9 L372.6,48.6 L372.4,50.7 L373.8,52.6 L373.4,54.7 L373.7,56.7 L374.5,58.6 L375.0,60.6 L372.9,63.0 L374.9,64.7 L374.6,66.8 L374.7,68.8 L375.1,70.8 L375.0,72.8 L375.4,74.8 L375.6,76.8 L376.8,78.7 L375.6,80.8 L375.6,82.8 L375.6,84.8 L376.8,86.7 L376.6,88.8 L375.8,90.8 L376.2,92.8 L378.0,94.7 L377.5,96.8 L378.0,98.7 L376.8,100.9 L377.8,102.8 L378.1,104.8 L378.7,106.7 L378.4,108.8 L377.9,110.8 L378.3,112.8 L379.6,114.7 L379.4,116.7 L379.0,118.8 L380.7,120.6 L378.7,122.9 L381.2,124.5 L380.1,126.8 L381.8,128.4 L380.3,130.9 L381.5,132.7 L383.2,134.3 L383.0,136.5 L382.7,138.6 L383.1,140.6 L384.1,142.4 L384.8,144.4 L385.3,146.3 L385.7,148.4 L387.4,149.8 L387.9,151.8 L388.4,153.8 L389.7,155.4 L391.1,157.0 L391.6,159.1 L392.9,160.6 L393.6,162.6 L394.6,164.4 L395.6,166.2 L397.6,167.0 L399.3,168.0 L400.6,169.7 L402.5,170.6 L404.5,171.1 L406.6,171.0 L408.6,171.2 L410.7,170.7 L412.7,170.8 L414.7,171.2 L416.7,171.4 L418.7,171.1 L420.7,171.7 L422.8,171.2 L424.8,171.2 L426.8,171.4 L428.8,171.2 L430.8,171.1 L432.8,171.1 L434.8,171.1 L436.8,171.2 L438.7,171.6 L440.7,171.6 L442.7,171.6 L444.8,171.4 L446.7,171.6 L448.8,171.2 L450.7,171.7 L452.8,171.4 L454.8,171.2 L456.8,171.4 L458.8,171.3 L460.7,171.7 L462.8,171.4 L464.8,171.1 L466.8,171.3 L468.8,171.2 L470.7,171.8 L472.8,171.4 L474.7,171.7 L476.7,171.6 L478.8,171.5 L480.7,171.7 L482.7,171.6 L484.8,171.2 L486.7,171.9 L488.8,171.4 L490.7,171.7 L492.8,171.5 L494.7,171.9 L496.8,171.3 L498.8,171.2 L500.8,171.2 L502.8,171.5 L504.7,171.8 L506.8,171.5 L508.7,171.9 L510.8,171.3 L512.7,171.9 L513.0,171.4" fill="none" stroke="#55c8a8" stroke-width="1.3" stroke-linejoin="round" opacity="1.0"/>
<path d="M310.0,172.3 L312.0,172.2 L314.0,172.0 L315.9,171.3 L318.0,171.4 L319.9,171.0 L321.9,170.7 L323.6,169.8 L325.1,168.5 L326.9,167.5 L328.7,166.6 L329.3,164.6 L330.4,162.8 L330.9,160.8 L332.5,159.3 L333.5,157.5 L333.3,155.2 L335.2,153.7 L334.0,151.1 L336.4,149.8 L337.1,147.8 L335.8,145.4 L337.7,143.8 L337.8,141.8 L339.3,140.1 L337.9,137.6 L339.3,135.9 L340.6,134.2 L340.5,132.0 L340.1,129.9 L339.8,127.8 L342.3,126.2 L341.4,124.0 L343.0,122.2 L341.1,119.9 L343.2,118.1 L343.5,116.2 L344.0,114.2 L342.0,111.9 L343.2,110.0 L342.7,107.9 L344.7,106.1 L343.9,104.0 L345.7,102.2 L344.4,100.0 L345.7,98.1 L346.1,96.1 L344.7,93.9 L345.7,92.0 L346.9,90.1 L345.9,88.0 L345.7,86.0 L345.6,84.0 L347.1,82.1 L345.7,79.9 L347.0,78.0 L347.1,76.0 L347.3,74.0 L346.5,71.8 L348.0,69.9 L348.9,68.0 L347.5,65.8 L347.7,63.8 L349.3,61.9 L348.6,59.8 L348.0,57.7 L347.5,55.6 L349.6,53.8 L348.8,51.7 L349.3,49.7 L349.0,47.6 L350.1,45.7 L350.7,43.7 L350.1,41.5 L350.0,39.4 L352.8,38.0 L353.1,36.1 L351.6,33.5 L353.5,32.0 L354.5,30.2 L354.1,28.1 L355.2,26.2 L356.0,24.2 L355.2,22.1 L354.9,20.1 L354.6,18.0 L355.0,16.0 L355.0,14.0 L355.1,12.0 L355.6,10.0 L355.6,10.3 L356.5,12.1 L356.0,14.2 L355.9,16.2 L356.3,18.2 L358.4,20.1 L356.3,22.3 L358.6,24.1 L357.0,26.3 L357.0,28.3 L357.6,30.3 L358.4,32.2 L359.4,34.2 L359.6,36.2 L358.3,38.3 L359.5,40.2 L358.9,42.3 L359.8,44.2 L360.2,46.2 L360.0,48.2 L359.1,50.3 L359.9,52.2 L360.3,54.2 L360.2,56.2 L360.2,58.3 L360.5,60.3 L360.8,62.2 L359.6,64.4 L360.4,66.3 L362.1,68.1 L362.2,70.2 L362.8,72.1 L362.6,74.2 L363.7,76.1 L362.1,78.4 L362.8,80.3 L363.4,82.3 L362.4,84.5 L364.1,86.3 L363.6,88.4 L362.8,90.5 L363.9,92.4 L363.9,94.5 L364.7,96.4 L363.2,98.7 L364.2,100.6 L365.9,102.3 L366.2,104.3 L366.1,106.4 L366.7,108.3 L366.9,110.3 L368.0,112.2 L367.2,114.3 L367.0,116.3 L367.1,118.3 L368.1,120.3 L368.3,122.3 L368.4,124.3 L368.5,126.3 L368.8,128.2 L370.2,130.0 L370.1,132.0 L368.8,134.5 L369.7,136.3 L371.1,138.0 L370.9,140.1 L372.8,141.7 L373.1,143.7 L372.9,145.8 L372.8,147.9 L374.9,149.6 L374.2,151.8 L373.7,153.9 L374.7,155.8 L374.4,157.9 L376.3,159.5 L375.9,161.8 L377.0,163.6 L378.8,164.9 L379.2,167.0 L380.5,168.3 L382.3,169.0 L383.5,170.4 L385.5,171.0 L387.5,171.3 L389.5,171.3 L391.6,171.5 L393.5,172.1 L395.0,172.1" fill="none" stroke="#111" stroke-width="1.3" stroke-linejoin="round" opacity="1.0"/>
<text x="492.2" y="19.0" font-size="10.3" fill="#111" font-weight="bold" text-anchor="end" font-family='"Liberation Sans", sans-serif' stroke="#111" stroke-width="0.38" textLength="54" lengthAdjust="spacingAndGlyphs" >Acetamide</text>
<text x="492.0" y="42.1" font-size="9.5" fill="#66dd33" font-weight="bold" text-anchor="end" font-family='"Liberation Sans", sans-serif' stroke="#66dd33" stroke-width="0.38" textLength="24.4" lengthAdjust="spacingAndGlyphs" >3 nM</text>
<text x="492.0" y="54.2" font-size="9.5" fill="#cc44dd" font-weight="bold" text-anchor="end" font-family='"Liberation Sans", sans-serif' stroke="#cc44dd" stroke-width="0.38" textLength="29" lengthAdjust="spacingAndGlyphs" >10 nM</text>
<text x="492.0" y="66.3" font-size="9.5" fill="#77ddee" font-weight="bold" text-anchor="end" font-family='"Liberation Sans", sans-serif' stroke="#77ddee" stroke-width="0.38" textLength="29" lengthAdjust="spacingAndGlyphs" >30 nM</text>
<text x="492.5" y="78.6" font-size="9.5" fill="#eb9a2e" font-weight="bold" text-anchor="end" font-family='"Liberation Sans", sans-serif' stroke="#eb9a2e" stroke-width="0.38" textLength="35.8" lengthAdjust="spacingAndGlyphs" >100 nM</text>
<text x="492.5" y="90.8" font-size="9.5" fill="#4c3acc" font-weight="bold" text-anchor="end" font-family='"Liberation Sans", sans-serif' stroke="#4c3acc" stroke-width="0.38" textLength="35.8" lengthAdjust="spacingAndGlyphs" >300 nM</text>
<text x="480.0" y="126.2" font-size="9.8" fill="#33b884" font-weight="bold" text-anchor="middle" font-family='"Liberation Sans", sans-serif' stroke="#33b884" stroke-width="0.38" textLength="59" lengthAdjust="spacingAndGlyphs" >G5-FITC-Ac</text>
<text x="480.2" y="137.6" font-size="9.8" fill="#33b884" font-weight="bold" text-anchor="middle" font-family='"Liberation Sans", sans-serif' stroke="#33b884" stroke-width="0.38" textLength="44" lengthAdjust="spacingAndGlyphs" >(300 nM)</text>
<rect x="62.8" y="209.6" width="165.8" height="148.9" fill="none" stroke="#555" stroke-width="1.3"/>
<line x1="62.80" y1="209.60" x2="62.80" y2="358.50" stroke="#222" stroke-width="1.3"/>
<line x1="62.80" y1="358.50" x2="228.60" y2="358.50" stroke="#888" stroke-width="1.5"/>
<line x1="60.30" y1="358.50" x2="62.80" y2="358.50" stroke="#777" stroke-width="0.9"/>
<text x="56.3" y="361.5" font-size="8.4" fill="#333" font-weight="normal" text-anchor="end" font-family='"Liberation Sans", sans-serif' textLength="4.5" lengthAdjust="spacingAndGlyphs" >0</text>
<line x1="60.30" y1="341.96" x2="62.80" y2="341.96" stroke="#777" stroke-width="0.9"/>
<text x="56.3" y="345.0" font-size="8.4" fill="#333" font-weight="normal" text-anchor="end" font-family='"Liberation Sans", sans-serif' textLength="9.0" lengthAdjust="spacingAndGlyphs" >25</text>
<line x1="60.30" y1="325.41" x2="62.80" y2="325.41" stroke="#777" stroke-width="0.9"/>
<text x="56.3" y="328.4" font-size="8.4" fill="#333" font-weight="normal" text-anchor="end" font-family='"Liberation Sans", sans-serif' textLength="9.0" lengthAdjust="spacingAndGlyphs" >50</text>
<line x1="60.30" y1="308.87" x2="62.80" y2="308.87" stroke="#777" stroke-width="0.9"/>
<text x="56.3" y="311.9" font-size="8.4" fill="#333" font-weight="normal" text-anchor="end" font-family='"Liberation Sans", sans-serif' textLength="9.0" lengthAdjust="spacingAndGlyphs" >75</text>
<line x1="60.30" y1="292.32" x2="62.80" y2="292.32" stroke="#777" stroke-width="0.9"/>
<text x="56.3" y="295.3" font-size="8.4" fill="#333" font-weight="normal" text-anchor="end" font-family='"Liberation Sans", sans-serif' textLength="13.5" lengthAdjust="spacingAndGlyphs" >100</text>
<line x1="60.30" y1="275.78" x2="62.80" y2="275.78" stroke="#777" stroke-width="0.9"/>
<text x="56.3" y="278.8" font-size="8.4" fill="#333" font-weight="normal" text-anchor="end" font-family='"Liberation Sans", sans-serif' textLength="13.5" lengthAdjust="spacingAndGlyphs" >125</text>
<line x1="60.30" y1="259.23" x2="62.80" y2="259.23" stroke="#777" stroke-width="0.9"/>
<text x="56.3" y="262.2" font-size="8.4" fill="#333" font-weight="normal" text-anchor="end" font-family='"Liberation Sans", sans-serif' textLength="13.5" lengthAdjust="spacingAndGlyphs" >150</text>
<line x1="60.30" y1="242.69" x2="62.80" y2="242.69" stroke="#777" stroke-width="0.9"/>
<text x="56.3" y="245.7" font-size="8.4" fill="#333" font-weight="normal" text-anchor="end" font-family='"Liberation Sans", sans-serif' textLength="13.5" lengthAdjust="spacingAndGlyphs" >175</text>
<line x1="60.30" y1="226.14" x2="62.80" y2="226.14" stroke="#777" stroke-width="0.9"/>
<text x="56.3" y="229.1" font-size="8.4" fill="#333" font-weight="normal" text-anchor="end" font-family='"Liberation Sans", sans-serif' textLength="13.5" lengthAdjust="spacingAndGlyphs" >200</text>
<line x1="60.30" y1="209.60" x2="62.80" y2="209.60" stroke="#777" stroke-width="0.9"/>
<text x="56.3" y="212.6" font-size="8.4" fill="#333" font-weight="normal" text-anchor="end" font-family='"Liberation Sans", sans-serif' textLength="13.5" lengthAdjust="spacingAndGlyphs" >225</text>
<line x1="62.80" y1="358.50" x2="62.80" y2="361.50" stroke="#555" stroke-width="0.9"/>
<text x="62.8" y="371.0" font-size="8.4" fill="#333" font-weight="normal" text-anchor="middle" font-family='"Liberation Sans", sans-serif' textLength="4.3" lengthAdjust="spacingAndGlyphs" >0</text>
<line x1="118.07" y1="358.50" x2="118.07" y2="361.50" stroke="#555" stroke-width="0.9"/>
<text x="118.1" y="371.0" font-size="8.4" fill="#333" font-weight="normal" text-anchor="middle" font-family='"Liberation Sans", sans-serif' textLength="12.899999999999999" lengthAdjust="spacingAndGlyphs" >100</text>
<line x1="173.33" y1="358.50" x2="173.33" y2="361.50" stroke="#555" stroke-width="0.9"/>
<text x="173.3" y="371.0" font-size="8.4" fill="#333" font-weight="normal" text-anchor="middle" font-family='"Liberation Sans", sans-serif' textLength="12.899999999999999" lengthAdjust="spacingAndGlyphs" >200</text>
<line x1="228.60" y1="358.50" x2="228.60" y2="361.50" stroke="#555" stroke-width="0.9"/>
<text x="228.6" y="371.0" font-size="8.4" fill="#333" font-weight="normal" text-anchor="middle" font-family='"Liberation Sans", sans-serif' textLength="12.899999999999999" lengthAdjust="spacingAndGlyphs" >300</text>
<text x="68.1" y="221.6" font-size="11.5" fill="#111" font-weight="bold" text-anchor="start" font-family='"Liberation Serif", serif' >C</text>
<text x="217.8" y="221.8" font-size="9.4" fill="#111" font-weight="bold" text-anchor="end" font-family='"Liberation Sans", sans-serif' stroke="#111" stroke-width="0.38" textLength="23.2" lengthAdjust="spacingAndGlyphs" >37 °C</text>
<text x="26.6" y="280.5" font-size="8.5" fill="#111" font-weight="bold" text-anchor="middle" font-family='"Liberation Sans", sans-serif' stroke="#111" stroke-width="0.38" textLength="119.7" lengthAdjust="spacingAndGlyphs" transform="rotate(-90 26.6 280.5)" >Increase in Cell Fluorescence</text>
<text x="34.6" y="280.2" font-size="7" fill="#111" font-weight="bold" text-anchor="middle" font-family='"Liberation Sans", sans-serif' stroke="#111" stroke-width="0.38" textLength="62.4" lengthAdjust="spacingAndGlyphs" transform="rotate(-90 34.6 280.2)" >(arbitrary units)</text>
<text x="143.4" y="382.6" font-size="8.5" fill="#111" font-weight="bold" text-anchor="middle" font-family='"Liberation Sans", sans-serif' stroke="#111" stroke-width="0.38" textLength="145" lengthAdjust="spacingAndGlyphs" >Concentration of Capped Dendrimer</text>
<text x="144.1" y="391.6" font-size="8.5" fill="#111" font-weight="bold" text-anchor="middle" font-family='"Liberation Sans", sans-serif' stroke="#111" stroke-width="0.38" textLength="65.8" lengthAdjust="spacingAndGlyphs" >Conjugates (nM)</text>
<path d="M63.5,347.5 L63.7,345.2 L64.0,342.2 L64.3,338.5 L64.7,334.5 L65.1,330.3 L65.5,326.1 L65.8,322.2 L66.1,318.6 L66.3,315.3 L66.5,312.0 L66.7,308.8 L66.9,305.6 L67.0,302.6 L67.2,299.8 L67.3,297.3 L67.5,295.0 L67.7,293.1 L67.9,291.5 L68.1,290.2 L68.3,289.1 L68.5,288.1 L68.7,287.0 L68.9,285.9 L69.1,284.7 L69.3,283.3 L69.5,281.9 L69.8,280.4 L70.0,278.9 L70.3,277.5 L70.5,276.0 L70.7,274.6 L71.0,273.3 L71.2,272.0 L71.5,270.8 L71.7,269.6 L72.0,268.4 L72.2,267.3 L72.5,266.2 L72.8,265.2 L73.2,264.2 L73.6,263.3 L74.0,262.4 L74.4,261.6 L74.8,260.8 L75.3,260.1 L75.8,259.4 L76.4,258.7 L77.1,258.1 L77.9,257.5 L78.7,256.9 L79.6,256.4 L80.5,255.9 L81.5,255.4 L82.5,254.9 L83.6,254.5 L84.6,254.0 L85.6,253.5 L86.7,253.1 L87.8,252.6 L88.9,252.2 L90.1,251.7 L91.2,251.3 L92.4,250.9 L93.7,250.6 L95.0,250.3 L96.4,250.0 L97.8,249.8 L99.2,249.5 L100.7,249.3 L102.1,249.1 L103.6,248.9 L105.0,248.7 L106.4,248.5 L107.8,248.3 L109.2,248.1 L110.6,247.9 L112.0,247.7 L113.4,247.4 L114.8,247.2 L116.2,247.0 L117.6,246.8 L119.0,246.5 L120.3,246.3 L121.7,246.1 L123.1,245.8 L124.6,245.5 L126.2,245.2 L127.9,244.9 L129.3,244.6 L130.3,244.3 L131.1,244.1 L132.1,243.8 L133.6,243.4 L136.0,242.9 L139.7,242.3 L145.0,241.4 L152.7,240.2 L162.8,238.7 L174.6,237.0 L187.0,235.1 L199.3,233.3 L210.7,231.7 L220.1,230.3 L226.9,229.3" fill="none" stroke="#e8404c" stroke-width="1.4" stroke-linejoin="round"/>
<line x1="62.70" y1="350.40" x2="63.50" y2="347.50" stroke="#e8404c" stroke-width="1.4"/>
<path d="M63.0,356.0 L63.2,355.7 L63.4,355.3 L63.7,354.8 L64.1,354.3 L64.4,353.7 L64.8,352.9 L65.1,352.1 L65.4,351.1 L65.7,349.9 L65.9,348.6 L66.2,347.1 L66.4,345.5 L66.7,343.8 L67.0,342.2 L67.2,340.6 L67.5,339.2 L67.8,337.9 L68.1,336.7 L68.4,335.5 L68.7,334.4 L69.0,333.3 L69.3,332.1 L69.6,330.9 L70.0,329.5 L70.4,328.0 L70.7,326.5 L71.1,324.9 L71.4,323.3 L71.8,321.6 L72.3,319.9 L72.8,318.3 L73.3,316.6 L73.9,314.9 L74.5,313.3 L75.2,311.6 L75.9,309.9 L76.6,308.2 L77.4,306.5 L78.2,304.8 L79.1,303.2 L80.0,301.6 L80.9,300.0 L81.9,298.4 L82.9,296.8 L83.9,295.3 L85.0,293.8 L86.1,292.3 L87.3,290.8 L88.4,289.4 L89.6,288.1 L90.7,286.8 L91.9,285.5 L93.1,284.2 L94.6,282.9 L96.2,281.5 L98.0,280.0 L100.1,278.4 L102.3,276.7 L104.8,275.0 L107.4,273.2 L110.1,271.4 L112.9,269.6 L115.8,268.0 L118.7,266.4 L121.7,265.0 L124.7,263.6 L127.8,262.4 L131.0,261.1 L134.3,259.9 L137.7,258.8 L141.3,257.5 L145.0,256.3 L148.9,255.0 L152.8,253.8 L156.9,252.5 L161.1,251.2 L165.5,249.9 L170.1,248.6 L174.9,247.3 L180.0,246.0 L185.8,244.6 L192.4,243.0 L199.5,241.4 L206.7,239.8 L213.6,238.3 L219.9,236.9 L225.1,235.8 L229.0,234.9" fill="none" stroke="#3a55dd" stroke-width="1.8" stroke-linejoin="round"/>
<path d="M62.2,357.4 L64.0,345.5 L68.2,333.0 L79.1,335.5 L119.1,343.9" fill="none" stroke="#70e03a" stroke-width="1.6" stroke-linejoin="round"/>
<circle cx="62.7" cy="350.4" r="2.4" fill="#ee1c1c"/>
<circle cx="63.5" cy="347.5" r="2.4" fill="#ee1c1c"/>
<circle cx="66.1" cy="318.6" r="3.1" fill="#ee1c1c"/>
<circle cx="77.1" cy="258.1" r="3.1" fill="#ee1c1c"/>
<circle cx="116.2" cy="247.0" r="3.1" fill="#ee1c1c"/>
<circle cx="226.9" cy="229.3" r="3.1" fill="#ee1c1c"/>
<rect x="60.6" y="353.6" width="4.8" height="4.8" fill="#2a4fe8"/>
<rect x="63.0" y="348.7" width="4.8" height="4.8" fill="#2a4fe8"/>
<rect x="64.5" y="336.2" width="6.0" height="6.0" fill="#2a4fe8"/>
<rect x="76.1" y="300.2" width="6.0" height="6.0" fill="#2a4fe8"/>
<rect x="115.7" y="263.4" width="6.0" height="6.0" fill="#2a4fe8"/>
<rect x="226.0" y="231.9" width="6.0" height="6.0" fill="#2a4fe8"/>
<polygon points="59.4,359.6 65.0,359.6 62.2,354.9" fill="#70e03a"/>
<polygon points="61.2,347.7 66.8,347.7 64.0,343.0" fill="#70e03a"/>
<polygon points="64.8,335.7 71.6,335.7 68.2,329.9" fill="#70e03a"/>
<polygon points="75.7,338.2 82.5,338.2 79.1,332.4" fill="#70e03a"/>
<polygon points="115.7,346.6 122.5,346.6 119.1,340.8" fill="#70e03a"/>
<text x="206.2" y="302.2" font-size="8.6" fill="#111" font-weight="bold" text-anchor="end" font-family='"Liberation Sans", sans-serif' stroke="#111" stroke-width="0.38" textLength="33.5" lengthAdjust="spacingAndGlyphs" >Carboxy</text>
<text x="205.8" y="311.2" font-size="8.6" fill="#111" font-weight="bold" text-anchor="end" font-family='"Liberation Sans", sans-serif' stroke="#111" stroke-width="0.38" textLength="33.4" lengthAdjust="spacingAndGlyphs" >Hydroxy</text>
<text x="205.0" y="322.4" font-size="8.6" fill="#111" font-weight="bold" text-anchor="end" font-family='"Liberation Sans", sans-serif' stroke="#111" stroke-width="0.38" textLength="43.1" lengthAdjust="spacingAndGlyphs" >Acetamide</text>
<polygon points="207.8,302.7 215.8,302.7 211.8,296.3" fill="#66cc33"/>
<rect x="208" y="305.8" width="8.1" height="7.7" fill="#2f55e6"/>
<circle cx="211.9" cy="320.1" r="4" fill="#e0201e"/>
<rect x="330.5" y="209.6" width="165.89999999999998" height="148.9" fill="none" stroke="#555" stroke-width="1.3"/>
<line x1="330.50" y1="209.60" x2="330.50" y2="358.50" stroke="#222" stroke-width="1.3"/>
<line x1="330.50" y1="358.50" x2="496.40" y2="358.50" stroke="#888" stroke-width="1.5"/>
<line x1="328.00" y1="358.50" x2="330.50" y2="358.50" stroke="#777" stroke-width="0.9"/>
<text x="324.0" y="361.5" font-size="8.4" fill="#333" font-weight="normal" text-anchor="end" font-family='"Liberation Sans", sans-serif' textLength="4.5" lengthAdjust="spacingAndGlyphs" >0</text>
<line x1="328.00" y1="341.96" x2="330.50" y2="341.96" stroke="#777" stroke-width="0.9"/>
<text x="324.0" y="345.0" font-size="8.4" fill="#333" font-weight="normal" text-anchor="end" font-family='"Liberation Sans", sans-serif' textLength="9.0" lengthAdjust="spacingAndGlyphs" >25</text>
<line x1="328.00" y1="325.41" x2="330.50" y2="325.41" stroke="#777" stroke-width="0.9"/>
<text x="324.0" y="328.4" font-size="8.4" fill="#333" font-weight="normal" text-anchor="end" font-family='"Liberation Sans", sans-serif' textLength="9.0" lengthAdjust="spacingAndGlyphs" >50</text>
<line x1="328.00" y1="308.87" x2="330.50" y2="308.87" stroke="#777" stroke-width="0.9"/>
<text x="324.0" y="311.9" font-size="8.4" fill="#333" font-weight="normal" text-anchor="end" font-family='"Liberation Sans", sans-serif' textLength="9.0" lengthAdjust="spacingAndGlyphs" >75</text>
<line x1="328.00" y1="292.32" x2="330.50" y2="292.32" stroke="#777" stroke-width="0.9"/>
<text x="324.0" y="295.3" font-size="8.4" fill="#333" font-weight="normal" text-anchor="end" font-family='"Liberation Sans", sans-serif' textLength="13.5" lengthAdjust="spacingAndGlyphs" >100</text>
<line x1="328.00" y1="275.78" x2="330.50" y2="275.78" stroke="#777" stroke-width="0.9"/>
<text x="324.0" y="278.8" font-size="8.4" fill="#333" font-weight="normal" text-anchor="end" font-family='"Liberation Sans", sans-serif' textLength="13.5" lengthAdjust="spacingAndGlyphs" >125</text>
<line x1="328.00" y1="259.23" x2="330.50" y2="259.23" stroke="#777" stroke-width="0.9"/>
<text x="324.0" y="262.2" font-size="8.4" fill="#333" font-weight="normal" text-anchor="end" font-family='"Liberation Sans", sans-serif' textLength="13.5" lengthAdjust="spacingAndGlyphs" >150</text>
<line x1="328.00" y1="242.69" x2="330.50" y2="242.69" stroke="#777" stroke-width="0.9"/>
<text x="324.0" y="245.7" font-size="8.4" fill="#333" font-weight="normal" text-anchor="end" font-family='"Liberation Sans", sans-serif' textLength="13.5" lengthAdjust="spacingAndGlyphs" >175</text>
<line x1="328.00" y1="226.14" x2="330.50" y2="226.14" stroke="#777" stroke-width="0.9"/>
<text x="324.0" y="229.1" font-size="8.4" fill="#333" font-weight="normal" text-anchor="end" font-family='"Liberation Sans", sans-serif' textLength="13.5" lengthAdjust="spacingAndGlyphs" >200</text>
<line x1="328.00" y1="209.60" x2="330.50" y2="209.60" stroke="#777" stroke-width="0.9"/>
<text x="324.0" y="212.6" font-size="8.4" fill="#333" font-weight="normal" text-anchor="end" font-family='"Liberation Sans", sans-serif' textLength="13.5" lengthAdjust="spacingAndGlyphs" >225</text>
<line x1="330.50" y1="358.50" x2="330.50" y2="361.50" stroke="#555" stroke-width="0.9"/>
<text x="330.5" y="371.0" font-size="8.4" fill="#333" font-weight="normal" text-anchor="middle" font-family='"Liberation Sans", sans-serif' textLength="4.3" lengthAdjust="spacingAndGlyphs" >0</text>
<line x1="385.80" y1="358.50" x2="385.80" y2="361.50" stroke="#555" stroke-width="0.9"/>
<text x="385.8" y="371.0" font-size="8.4" fill="#333" font-weight="normal" text-anchor="middle" font-family='"Liberation Sans", sans-serif' textLength="12.899999999999999" lengthAdjust="spacingAndGlyphs" >100</text>
<line x1="441.10" y1="358.50" x2="441.10" y2="361.50" stroke="#555" stroke-width="0.9"/>
<text x="441.1" y="371.0" font-size="8.4" fill="#333" font-weight="normal" text-anchor="middle" font-family='"Liberation Sans", sans-serif' textLength="12.899999999999999" lengthAdjust="spacingAndGlyphs" >200</text>
<line x1="496.40" y1="358.50" x2="496.40" y2="361.50" stroke="#555" stroke-width="0.9"/>
<text x="496.4" y="371.0" font-size="8.4" fill="#333" font-weight="normal" text-anchor="middle" font-family='"Liberation Sans", sans-serif' textLength="12.899999999999999" lengthAdjust="spacingAndGlyphs" >300</text>
<text x="335.8" y="221.6" font-size="11.5" fill="#111" font-weight="bold" text-anchor="start" font-family='"Liberation Serif", serif' >D</text>
<text x="484.3" y="221.8" font-size="9.4" fill="#111" font-weight="bold" text-anchor="end" font-family='"Liberation Sans", sans-serif' stroke="#111" stroke-width="0.38" textLength="18.3" lengthAdjust="spacingAndGlyphs" >4 °C</text>
<text x="294.3" y="280.5" font-size="8.5" fill="#111" font-weight="bold" text-anchor="middle" font-family='"Liberation Sans", sans-serif' stroke="#111" stroke-width="0.38" textLength="119.7" lengthAdjust="spacingAndGlyphs" transform="rotate(-90 294.3 280.5)" >Increase in Cell Fluorescence</text>
<text x="302.3" y="280.2" font-size="7" fill="#111" font-weight="bold" text-anchor="middle" font-family='"Liberation Sans", sans-serif' stroke="#111" stroke-width="0.38" textLength="62.4" lengthAdjust="spacingAndGlyphs" transform="rotate(-90 302.3 280.2)" >(arbitrary units)</text>
<text x="411.1" y="382.6" font-size="8.5" fill="#111" font-weight="bold" text-anchor="middle" font-family='"Liberation Sans", sans-serif' stroke="#111" stroke-width="0.38" textLength="145" lengthAdjust="spacingAndGlyphs" >Concentration of Capped Dendrimer</text>
<text x="411.8" y="391.6" font-size="8.5" fill="#111" font-weight="bold" text-anchor="middle" font-family='"Liberation Sans", sans-serif' stroke="#111" stroke-width="0.38" textLength="65.8" lengthAdjust="spacingAndGlyphs" >Conjugates (nM)</text>
<line x1="346.60" y1="303.50" x2="346.60" y2="313.60" stroke="#ee1c1c" stroke-width="1"/>
<line x1="343.40" y1="303.50" x2="349.80" y2="303.50" stroke="#ee1c1c" stroke-width="1"/>
<line x1="343.40" y1="313.60" x2="349.80" y2="313.60" stroke="#ee1c1c" stroke-width="1"/>
<line x1="385.50" y1="276.00" x2="385.50" y2="288.50" stroke="#ee1c1c" stroke-width="1"/>
<line x1="382.30" y1="276.00" x2="388.70" y2="276.00" stroke="#ee1c1c" stroke-width="1"/>
<line x1="382.30" y1="288.50" x2="388.70" y2="288.50" stroke="#ee1c1c" stroke-width="1"/>
<line x1="496.40" y1="268.20" x2="496.40" y2="282.50" stroke="#e8404c" stroke-width="1"/>
<line x1="493.20" y1="268.20" x2="499.60" y2="268.20" stroke="#e8404c" stroke-width="1"/>
<line x1="493.20" y1="282.50" x2="499.60" y2="282.50" stroke="#e8404c" stroke-width="1"/>
<line x1="334.70" y1="325.50" x2="334.70" y2="335.50" stroke="#ee1c1c" stroke-width="1"/>
<line x1="331.50" y1="325.50" x2="337.90" y2="325.50" stroke="#ee1c1c" stroke-width="1"/>
<line x1="331.50" y1="335.50" x2="337.90" y2="335.50" stroke="#ee1c1c" stroke-width="1"/>
<line x1="331.80" y1="339.00" x2="331.80" y2="347.00" stroke="#ee1c1c" stroke-width="1"/>
<line x1="329.30" y1="339.00" x2="334.30" y2="339.00" stroke="#ee1c1c" stroke-width="1"/>
<line x1="329.30" y1="347.00" x2="334.30" y2="347.00" stroke="#ee1c1c" stroke-width="1"/>
<line x1="333.00" y1="340.50" x2="333.00" y2="348.00" stroke="#2a4fe8" stroke-width="1"/>
<line x1="330.50" y1="340.50" x2="335.50" y2="340.50" stroke="#2a4fe8" stroke-width="1"/>
<line x1="330.50" y1="348.00" x2="335.50" y2="348.00" stroke="#2a4fe8" stroke-width="1"/>
<line x1="336.40" y1="334.50" x2="336.40" y2="342.00" stroke="#2a4fe8" stroke-width="1"/>
<line x1="333.90" y1="334.50" x2="338.90" y2="334.50" stroke="#2a4fe8" stroke-width="1"/>
<line x1="333.90" y1="342.00" x2="338.90" y2="342.00" stroke="#2a4fe8" stroke-width="1"/>
<line x1="346.60" y1="315.30" x2="346.60" y2="323.00" stroke="#2a4fe8" stroke-width="1"/>
<line x1="343.40" y1="315.30" x2="349.80" y2="315.30" stroke="#2a4fe8" stroke-width="1"/>
<line x1="343.40" y1="323.00" x2="349.80" y2="323.00" stroke="#2a4fe8" stroke-width="1"/>
<line x1="385.50" y1="285.00" x2="385.50" y2="296.50" stroke="#2a4fe8" stroke-width="1"/>
<line x1="382.30" y1="285.00" x2="388.70" y2="285.00" stroke="#2a4fe8" stroke-width="1"/>
<line x1="382.30" y1="296.50" x2="388.70" y2="296.50" stroke="#2a4fe8" stroke-width="1"/>
<line x1="496.40" y1="264.80" x2="496.40" y2="279.00" stroke="#3a55dd" stroke-width="1"/>
<line x1="493.20" y1="264.80" x2="499.60" y2="264.80" stroke="#3a55dd" stroke-width="1"/>
<line x1="493.20" y1="279.00" x2="499.60" y2="279.00" stroke="#3a55dd" stroke-width="1"/>
<line x1="347.40" y1="329.00" x2="347.40" y2="335.70" stroke="#70e03a" stroke-width="1"/>
<line x1="344.20" y1="329.00" x2="350.60" y2="329.00" stroke="#70e03a" stroke-width="1"/>
<line x1="344.20" y1="335.70" x2="350.60" y2="335.70" stroke="#70e03a" stroke-width="1"/>
<line x1="385.50" y1="327.00" x2="385.50" y2="338.70" stroke="#70e03a" stroke-width="1"/>
<line x1="382.30" y1="327.00" x2="388.70" y2="327.00" stroke="#70e03a" stroke-width="1"/>
<line x1="382.30" y1="338.70" x2="388.70" y2="338.70" stroke="#70e03a" stroke-width="1"/>
<path d="M330.5,349.5 L331.1,346.2 L331.8,343.0 L332.5,339.5 L333.2,336.1 L334.0,333.0 L334.7,330.6 L335.4,328.7 L336.1,326.9 L336.8,325.1 L337.5,323.5 L338.2,321.9 L338.9,320.4 L339.6,319.0 L340.3,317.7 L341.0,316.4 L341.7,315.2 L342.4,314.1 L343.1,313.0 L343.8,312.0 L344.5,311.1 L345.2,310.2 L345.9,309.4 L346.6,308.6 L347.3,307.9 L347.9,307.2 L348.6,306.4 L349.3,305.7 L350.0,305.0 L350.6,304.3 L351.3,303.7 L352.0,303.0 L352.6,302.3 L353.3,301.6 L354.0,301.0 L354.6,300.3 L355.3,299.7 L356.0,299.1 L356.7,298.4 L357.3,297.8 L358.0,297.2 L358.7,296.6 L359.3,296.0 L360.0,295.5 L360.7,294.9 L361.4,294.3 L362.0,293.8 L362.7,293.2 L363.4,292.7 L364.0,292.2 L364.7,291.7 L365.4,291.2 L366.1,290.7 L366.7,290.2 L367.4,289.8 L368.1,289.3 L368.7,288.9 L369.4,288.4 L370.1,288.0 L370.7,287.6 L371.4,287.2 L372.1,286.8 L372.8,286.5 L373.4,286.1 L374.1,285.8 L374.8,285.4 L375.4,285.1 L376.1,284.8 L376.8,284.5 L377.5,284.2 L378.1,284.0 L378.8,283.7 L379.5,283.5 L380.1,283.3 L380.8,283.0 L381.5,282.8 L382.1,282.7 L382.8,282.5 L383.5,282.4 L384.2,282.2 L384.8,282.1 L385.5,282.0 L386.2,281.9 L386.8,281.8 L387.5,281.7 L388.2,281.6 L388.8,281.5 L389.5,281.5 L390.2,281.4 L390.8,281.3 L391.5,281.2 L392.2,281.1 L392.8,281.0 L393.5,280.9 L394.2,280.9 L394.9,280.8 L395.5,280.7 L396.2,280.6 L396.9,280.6 L397.5,280.5 L398.2,280.4 L398.9,280.3 L399.5,280.3 L400.2,280.2 L400.9,280.1 L401.5,280.0 L402.2,280.0 L402.9,279.9 L403.5,279.8 L404.2,279.8 L404.9,279.7 L405.5,279.6 L406.2,279.6 L406.9,279.5 L407.5,279.5 L408.2,279.4 L408.9,279.3 L409.6,279.3 L410.2,279.2 L410.9,279.2 L411.6,279.1 L412.2,279.1 L412.9,279.0 L413.6,278.9 L414.2,278.9 L414.9,278.8 L415.6,278.8 L416.2,278.7 L416.9,278.7 L417.6,278.6 L418.2,278.6 L418.9,278.5 L419.6,278.5 L420.2,278.4 L420.9,278.4 L421.6,278.3 L422.2,278.3 L422.9,278.3 L423.6,278.2 L424.2,278.2 L424.9,278.1 L425.6,278.1 L426.3,278.0 L426.9,278.0 L427.6,278.0 L428.3,277.9 L428.9,277.9 L429.6,277.8 L430.3,277.8 L430.9,277.8 L431.6,277.7 L432.3,277.7 L432.9,277.6 L433.6,277.6 L434.3,277.6 L434.9,277.5 L435.6,277.5 L436.3,277.5 L436.9,277.4 L437.6,277.4 L438.3,277.4 L438.9,277.3 L439.6,277.3 L440.3,277.3 L440.9,277.2 L441.6,277.2 L442.3,277.2 L443.0,277.1 L443.6,277.1 L444.3,277.1 L445.0,277.0 L445.6,277.0 L446.3,277.0 L447.0,276.9 L447.6,276.9 L448.3,276.9 L449.0,276.8 L449.6,276.8 L450.3,276.8 L451.0,276.8 L451.6,276.7 L452.3,276.7 L453.0,276.7 L453.6,276.6 L454.3,276.6 L455.0,276.6 L455.6,276.6 L456.3,276.5 L457.0,276.5 L457.7,276.5 L458.3,276.4 L459.0,276.4 L459.7,276.4 L460.3,276.4 L461.0,276.3 L461.7,276.3 L462.3,276.3 L463.0,276.2 L463.7,276.2 L464.3,276.2 L465.0,276.2 L465.7,276.1 L466.3,276.1 L467.0,276.1 L467.7,276.0 L468.3,276.0 L469.0,276.0 L469.7,275.9 L470.3,275.9 L471.0,275.9 L471.7,275.9 L472.3,275.8 L473.0,275.8 L473.7,275.8 L474.4,275.7 L475.0,275.7 L475.7,275.7 L476.4,275.6 L477.0,275.6 L477.7,275.6 L478.4,275.5 L479.0,275.5 L479.7,275.5 L480.4,275.4 L481.0,275.4 L481.7,275.4 L482.4,275.3 L483.0,275.3 L483.7,275.3 L484.4,275.2 L485.0,275.2 L485.7,275.2 L486.4,275.1 L487.0,275.1 L487.7,275.0 L488.4,275.0 L489.1,275.0 L489.7,274.9 L490.4,274.9 L491.1,274.8 L491.7,274.8 L492.4,274.8 L493.1,274.7 L493.7,274.7 L494.4,274.6 L495.1,274.6 L495.7,274.5 L496.4,274.5" fill="none" stroke="#e8404c" stroke-width="1.4" stroke-linejoin="round"/>
<path d="M331.0,348.4 L331.7,347.0 L332.3,345.6 L333.0,344.2 L333.7,342.9 L334.4,341.7 L335.0,340.6 L335.7,339.4 L336.4,338.2 L337.1,336.9 L337.8,335.6 L338.4,334.2 L339.1,332.7 L339.8,331.3 L340.5,329.8 L341.2,328.3 L341.8,326.9 L342.5,325.5 L343.2,324.1 L343.9,322.8 L344.6,321.6 L345.2,320.5 L345.9,319.6 L346.6,318.7 L347.3,317.9 L347.9,317.2 L348.6,316.4 L349.3,315.7 L350.0,315.0 L350.6,314.3 L351.3,313.6 L352.0,312.9 L352.6,312.2 L353.3,311.5 L354.0,310.8 L354.6,310.2 L355.3,309.5 L356.0,308.9 L356.7,308.3 L357.3,307.7 L358.0,307.1 L358.7,306.5 L359.3,305.9 L360.0,305.3 L360.7,304.7 L361.4,304.2 L362.0,303.6 L362.7,303.1 L363.4,302.6 L364.0,302.1 L364.7,301.6 L365.4,301.1 L366.1,300.6 L366.7,300.1 L367.4,299.6 L368.1,299.2 L368.7,298.7 L369.4,298.3 L370.1,297.9 L370.7,297.4 L371.4,297.0 L372.1,296.6 L372.8,296.3 L373.4,295.9 L374.1,295.5 L374.8,295.1 L375.4,294.8 L376.1,294.5 L376.8,294.1 L377.5,293.8 L378.1,293.5 L378.8,293.2 L379.5,292.9 L380.1,292.6 L380.8,292.3 L381.5,292.1 L382.1,291.8 L382.8,291.6 L383.5,291.3 L384.2,291.1 L384.8,290.9 L385.5,290.7 L386.2,290.5 L386.8,290.3 L387.5,290.1 L388.2,289.9 L388.8,289.7 L389.5,289.5 L390.2,289.4 L390.8,289.2 L391.5,289.0 L392.2,288.8 L392.8,288.6 L393.5,288.4 L394.2,288.3 L394.9,288.1 L395.5,287.9 L396.2,287.8 L396.9,287.6 L397.5,287.4 L398.2,287.3 L398.9,287.1 L399.5,286.9 L400.2,286.8 L400.9,286.6 L401.5,286.5 L402.2,286.3 L402.9,286.2 L403.5,286.0 L404.2,285.9 L404.9,285.7 L405.5,285.6 L406.2,285.4 L406.9,285.3 L407.5,285.1 L408.2,285.0 L408.9,284.9 L409.6,284.7 L410.2,284.6 L410.9,284.5 L411.6,284.3 L412.2,284.2 L412.9,284.1 L413.6,283.9 L414.2,283.8 L414.9,283.7 L415.6,283.6 L416.2,283.5 L416.9,283.3 L417.6,283.2 L418.2,283.1 L418.9,283.0 L419.6,282.9 L420.2,282.7 L420.9,282.6 L421.6,282.5 L422.2,282.4 L422.9,282.3 L423.6,282.2 L424.2,282.1 L424.9,282.0 L425.6,281.9 L426.3,281.8 L426.9,281.7 L427.6,281.5 L428.3,281.4 L428.9,281.3 L429.6,281.2 L430.3,281.1 L430.9,281.0 L431.6,280.9 L432.3,280.8 L432.9,280.8 L433.6,280.7 L434.3,280.6 L434.9,280.5 L435.6,280.4 L436.3,280.3 L436.9,280.2 L437.6,280.1 L438.3,280.0 L438.9,279.9 L439.6,279.8 L440.3,279.7 L440.9,279.6 L441.6,279.6 L442.3,279.5 L443.0,279.4 L443.6,279.3 L444.3,279.2 L445.0,279.1 L445.6,279.0 L446.3,279.0 L447.0,278.9 L447.6,278.8 L448.3,278.7 L449.0,278.6 L449.6,278.5 L450.3,278.5 L451.0,278.4 L451.6,278.3 L452.3,278.2 L453.0,278.1 L453.6,278.0 L454.3,278.0 L455.0,277.9 L455.6,277.8 L456.3,277.7 L457.0,277.6 L457.7,277.6 L458.3,277.5 L459.0,277.4 L459.7,277.3 L460.3,277.2 L461.0,277.1 L461.7,277.1 L462.3,277.0 L463.0,276.9 L463.7,276.8 L464.3,276.7 L465.0,276.7 L465.7,276.6 L466.3,276.5 L467.0,276.4 L467.7,276.3 L468.3,276.2 L469.0,276.2 L469.7,276.1 L470.3,276.0 L471.0,275.9 L471.7,275.8 L472.3,275.7 L473.0,275.7 L473.7,275.6 L474.4,275.5 L475.0,275.4 L475.7,275.3 L476.4,275.2 L477.0,275.1 L477.7,275.1 L478.4,275.0 L479.0,274.9 L479.7,274.8 L480.4,274.7 L481.0,274.6 L481.7,274.5 L482.4,274.4 L483.0,274.3 L483.7,274.2 L484.4,274.1 L485.0,274.0 L485.7,273.9 L486.4,273.9 L487.0,273.8 L487.7,273.7 L488.4,273.6 L489.1,273.5 L489.7,273.4 L490.4,273.3 L491.1,273.2 L491.7,273.1 L492.4,272.9 L493.1,272.8 L493.7,272.7 L494.4,272.6 L495.1,272.5 L495.7,272.4 L496.4,272.3" fill="none" stroke="#3a55dd" stroke-width="1.4" stroke-linejoin="round"/>
<path d="M331.0,350.0 L331.1,349.8 L331.2,349.5 L331.3,349.2 L331.4,348.9 L331.6,348.6 L331.7,348.2 L331.9,347.8 L332.1,347.3 L332.2,346.9 L332.4,346.5 L332.6,346.0 L332.8,345.6 L333.0,345.2 L333.2,344.8 L333.3,344.4 L333.5,344.0 L333.7,343.6 L333.8,343.3 L333.9,342.9 L334.0,342.6 L334.1,342.2 L334.2,341.9 L334.3,341.5 L334.4,341.2 L334.5,340.9 L334.7,340.5 L334.9,340.2 L335.1,339.8 L335.3,339.5 L335.6,339.1 L336.0,338.8 L336.4,338.4 L336.8,338.0 L337.2,337.6 L337.6,337.2 L337.9,336.7 L338.3,336.3 L338.7,335.8 L339.2,335.4 L339.7,334.9 L340.3,334.5 L340.9,334.1 L341.7,333.7 L342.6,333.3 L343.5,333.0 L344.7,332.7 L346.0,332.5 L347.4,332.3 L348.9,332.2 L350.4,332.1 L351.8,332.1 L353.3,332.1 L354.9,332.1 L356.5,332.2 L358.3,332.3 L360.2,332.4 L362.3,332.6 L364.7,332.7 L367.3,332.9 L370.2,333.0 L373.5,333.2 L377.1,333.4 L381.1,333.5 L385.5,333.7 L390.6,333.9 L396.6,334.0 L403.4,334.2 L410.7,334.4 L418.5,334.7 L426.6,334.9 L435.0,335.1 L443.3,335.4 L451.6,335.6 L459.7,335.9 L467.5,336.1 L474.8,336.3 L481.4,336.5 L487.3,336.6 L492.4,336.8 L496.4,336.9" fill="none" stroke="#70e03a" stroke-width="1.5" stroke-linejoin="round"/>
<polygon points="333.4,340.8 339.4,340.8 336.4,335.7" fill="#70e03a"/>
<polygon points="344.4,334.7 350.4,334.7 347.4,329.6" fill="#70e03a"/>
<polygon points="382.5,336.1 388.5,336.1 385.5,331.0" fill="#70e03a"/>
<polygon points="493.4,339.3 499.4,339.3 496.4,334.2" fill="#70e03a"/>
<circle cx="330.5" cy="349.5" r="2.6" fill="#ee1c1c"/>
<circle cx="331.8" cy="343.0" r="2.6" fill="#ee1c1c"/>
<circle cx="334.7" cy="330.6" r="3.0" fill="#ee1c1c"/>
<circle cx="346.6" cy="308.6" r="3.0" fill="#ee1c1c"/>
<circle cx="385.5" cy="282.0" r="3.0" fill="#ee1c1c"/>
<circle cx="496.4" cy="274.5" r="3.0" fill="#ee1c1c"/>
<rect x="328.6" y="346.0" width="4.8" height="4.8" fill="#2a4fe8"/>
<rect x="330.6" y="341.8" width="4.8" height="4.8" fill="#2a4fe8"/>
<rect x="333.6" y="335.4" width="5.6" height="5.6" fill="#2a4fe8"/>
<rect x="343.8" y="315.9" width="5.6" height="5.6" fill="#2a4fe8"/>
<rect x="382.7" y="287.9" width="5.6" height="5.6" fill="#2a4fe8"/>
<rect x="493.6" y="269.5" width="5.6" height="5.6" fill="#2a4fe8"/>
<text x="478.2" y="300.8" font-size="8.5" fill="#111" font-weight="bold" text-anchor="end" font-family='"Liberation Sans", sans-serif' stroke="#111" stroke-width="0.38" textLength="34" lengthAdjust="spacingAndGlyphs" >Carboxy</text>
<text x="478.0" y="310.8" font-size="8.5" fill="#111" font-weight="bold" text-anchor="end" font-family='"Liberation Sans", sans-serif' stroke="#111" stroke-width="0.38" textLength="34.2" lengthAdjust="spacingAndGlyphs" >Hydroxy</text>
<text x="476.6" y="321.2" font-size="8.5" fill="#111" font-weight="bold" text-anchor="end" font-family='"Liberation Sans", sans-serif' stroke="#111" stroke-width="0.38" textLength="42.4" lengthAdjust="spacingAndGlyphs" >Acetamide</text>
<polygon points="479.2,301.6 487.7,301.6 483.4,294.5" fill="#66cc33"/>
<rect x="479.2" y="304.2" width="8.5" height="7.3" fill="#2f55e6"/>
<circle cx="483.5" cy="318.4" r="4" fill="#e0201e"/>
</svg>
</body></html>
